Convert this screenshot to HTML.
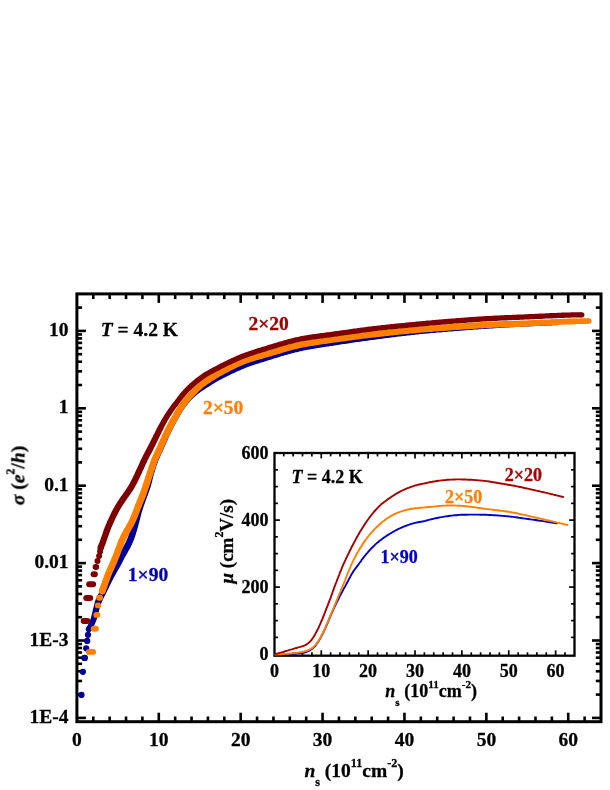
<!DOCTYPE html>
<html><head><meta charset="utf-8"><title>chart</title>
<style>
html,body{margin:0;padding:0;background:#fff;}
svg{display:block;}
text{font-family:"Liberation Serif",serif;font-weight:bold;stroke-width:0.3px;stroke-linejoin:round;}
</style></head><body>
<svg width="610" height="790" viewBox="0 0 610 790">
<rect width="610" height="790" fill="#fff"/>
<g id="mainaxes">
<line x1="93.28" y1="721.70" x2="93.28" y2="716.50" stroke="#000" stroke-width="2.6"/>
<line x1="93.28" y1="293.90" x2="93.28" y2="299.10" stroke="#000" stroke-width="2.6"/>
<line x1="109.66" y1="721.70" x2="109.66" y2="716.50" stroke="#000" stroke-width="2.6"/>
<line x1="109.66" y1="293.90" x2="109.66" y2="299.10" stroke="#000" stroke-width="2.6"/>
<line x1="126.03" y1="721.70" x2="126.03" y2="716.50" stroke="#000" stroke-width="2.6"/>
<line x1="126.03" y1="293.90" x2="126.03" y2="299.10" stroke="#000" stroke-width="2.6"/>
<line x1="142.41" y1="721.70" x2="142.41" y2="716.50" stroke="#000" stroke-width="2.6"/>
<line x1="142.41" y1="293.90" x2="142.41" y2="299.10" stroke="#000" stroke-width="2.6"/>
<line x1="158.79" y1="721.70" x2="158.79" y2="712.70" stroke="#000" stroke-width="2.6"/>
<line x1="158.79" y1="293.90" x2="158.79" y2="302.90" stroke="#000" stroke-width="2.6"/>
<line x1="175.17" y1="721.70" x2="175.17" y2="716.50" stroke="#000" stroke-width="2.6"/>
<line x1="175.17" y1="293.90" x2="175.17" y2="299.10" stroke="#000" stroke-width="2.6"/>
<line x1="191.55" y1="721.70" x2="191.55" y2="716.50" stroke="#000" stroke-width="2.6"/>
<line x1="191.55" y1="293.90" x2="191.55" y2="299.10" stroke="#000" stroke-width="2.6"/>
<line x1="207.93" y1="721.70" x2="207.93" y2="716.50" stroke="#000" stroke-width="2.6"/>
<line x1="207.93" y1="293.90" x2="207.93" y2="299.10" stroke="#000" stroke-width="2.6"/>
<line x1="224.30" y1="721.70" x2="224.30" y2="716.50" stroke="#000" stroke-width="2.6"/>
<line x1="224.30" y1="293.90" x2="224.30" y2="299.10" stroke="#000" stroke-width="2.6"/>
<line x1="240.68" y1="721.70" x2="240.68" y2="712.70" stroke="#000" stroke-width="2.6"/>
<line x1="240.68" y1="293.90" x2="240.68" y2="302.90" stroke="#000" stroke-width="2.6"/>
<line x1="257.06" y1="721.70" x2="257.06" y2="716.50" stroke="#000" stroke-width="2.6"/>
<line x1="257.06" y1="293.90" x2="257.06" y2="299.10" stroke="#000" stroke-width="2.6"/>
<line x1="273.44" y1="721.70" x2="273.44" y2="716.50" stroke="#000" stroke-width="2.6"/>
<line x1="273.44" y1="293.90" x2="273.44" y2="299.10" stroke="#000" stroke-width="2.6"/>
<line x1="289.82" y1="721.70" x2="289.82" y2="716.50" stroke="#000" stroke-width="2.6"/>
<line x1="289.82" y1="293.90" x2="289.82" y2="299.10" stroke="#000" stroke-width="2.6"/>
<line x1="306.19" y1="721.70" x2="306.19" y2="716.50" stroke="#000" stroke-width="2.6"/>
<line x1="306.19" y1="293.90" x2="306.19" y2="299.10" stroke="#000" stroke-width="2.6"/>
<line x1="322.57" y1="721.70" x2="322.57" y2="712.70" stroke="#000" stroke-width="2.6"/>
<line x1="322.57" y1="293.90" x2="322.57" y2="302.90" stroke="#000" stroke-width="2.6"/>
<line x1="338.95" y1="721.70" x2="338.95" y2="716.50" stroke="#000" stroke-width="2.6"/>
<line x1="338.95" y1="293.90" x2="338.95" y2="299.10" stroke="#000" stroke-width="2.6"/>
<line x1="355.33" y1="721.70" x2="355.33" y2="716.50" stroke="#000" stroke-width="2.6"/>
<line x1="355.33" y1="293.90" x2="355.33" y2="299.10" stroke="#000" stroke-width="2.6"/>
<line x1="371.71" y1="721.70" x2="371.71" y2="716.50" stroke="#000" stroke-width="2.6"/>
<line x1="371.71" y1="293.90" x2="371.71" y2="299.10" stroke="#000" stroke-width="2.6"/>
<line x1="388.08" y1="721.70" x2="388.08" y2="716.50" stroke="#000" stroke-width="2.6"/>
<line x1="388.08" y1="293.90" x2="388.08" y2="299.10" stroke="#000" stroke-width="2.6"/>
<line x1="404.46" y1="721.70" x2="404.46" y2="712.70" stroke="#000" stroke-width="2.6"/>
<line x1="404.46" y1="293.90" x2="404.46" y2="302.90" stroke="#000" stroke-width="2.6"/>
<line x1="420.84" y1="721.70" x2="420.84" y2="716.50" stroke="#000" stroke-width="2.6"/>
<line x1="420.84" y1="293.90" x2="420.84" y2="299.10" stroke="#000" stroke-width="2.6"/>
<line x1="437.22" y1="721.70" x2="437.22" y2="716.50" stroke="#000" stroke-width="2.6"/>
<line x1="437.22" y1="293.90" x2="437.22" y2="299.10" stroke="#000" stroke-width="2.6"/>
<line x1="453.60" y1="721.70" x2="453.60" y2="716.50" stroke="#000" stroke-width="2.6"/>
<line x1="453.60" y1="293.90" x2="453.60" y2="299.10" stroke="#000" stroke-width="2.6"/>
<line x1="469.98" y1="721.70" x2="469.98" y2="716.50" stroke="#000" stroke-width="2.6"/>
<line x1="469.98" y1="293.90" x2="469.98" y2="299.10" stroke="#000" stroke-width="2.6"/>
<line x1="486.35" y1="721.70" x2="486.35" y2="712.70" stroke="#000" stroke-width="2.6"/>
<line x1="486.35" y1="293.90" x2="486.35" y2="302.90" stroke="#000" stroke-width="2.6"/>
<line x1="502.73" y1="721.70" x2="502.73" y2="716.50" stroke="#000" stroke-width="2.6"/>
<line x1="502.73" y1="293.90" x2="502.73" y2="299.10" stroke="#000" stroke-width="2.6"/>
<line x1="519.11" y1="721.70" x2="519.11" y2="716.50" stroke="#000" stroke-width="2.6"/>
<line x1="519.11" y1="293.90" x2="519.11" y2="299.10" stroke="#000" stroke-width="2.6"/>
<line x1="535.49" y1="721.70" x2="535.49" y2="716.50" stroke="#000" stroke-width="2.6"/>
<line x1="535.49" y1="293.90" x2="535.49" y2="299.10" stroke="#000" stroke-width="2.6"/>
<line x1="551.87" y1="721.70" x2="551.87" y2="716.50" stroke="#000" stroke-width="2.6"/>
<line x1="551.87" y1="293.90" x2="551.87" y2="299.10" stroke="#000" stroke-width="2.6"/>
<line x1="568.24" y1="721.70" x2="568.24" y2="712.70" stroke="#000" stroke-width="2.6"/>
<line x1="568.24" y1="293.90" x2="568.24" y2="302.90" stroke="#000" stroke-width="2.6"/>
<line x1="584.62" y1="721.70" x2="584.62" y2="716.50" stroke="#000" stroke-width="2.6"/>
<line x1="584.62" y1="293.90" x2="584.62" y2="299.10" stroke="#000" stroke-width="2.6"/>
<line x1="76.90" y1="717.90" x2="85.90" y2="717.90" stroke="#000" stroke-width="2.6"/>
<line x1="601.00" y1="717.90" x2="592.00" y2="717.90" stroke="#000" stroke-width="2.6"/>
<line x1="76.90" y1="694.60" x2="82.10" y2="694.60" stroke="#000" stroke-width="2.6"/>
<line x1="601.00" y1="694.60" x2="595.80" y2="694.60" stroke="#000" stroke-width="2.6"/>
<line x1="76.90" y1="680.97" x2="82.10" y2="680.97" stroke="#000" stroke-width="2.6"/>
<line x1="601.00" y1="680.97" x2="595.80" y2="680.97" stroke="#000" stroke-width="2.6"/>
<line x1="76.90" y1="671.30" x2="82.10" y2="671.30" stroke="#000" stroke-width="2.6"/>
<line x1="601.00" y1="671.30" x2="595.80" y2="671.30" stroke="#000" stroke-width="2.6"/>
<line x1="76.90" y1="663.80" x2="82.10" y2="663.80" stroke="#000" stroke-width="2.6"/>
<line x1="601.00" y1="663.80" x2="595.80" y2="663.80" stroke="#000" stroke-width="2.6"/>
<line x1="76.90" y1="657.67" x2="82.10" y2="657.67" stroke="#000" stroke-width="2.6"/>
<line x1="601.00" y1="657.67" x2="595.80" y2="657.67" stroke="#000" stroke-width="2.6"/>
<line x1="76.90" y1="652.49" x2="82.10" y2="652.49" stroke="#000" stroke-width="2.6"/>
<line x1="601.00" y1="652.49" x2="595.80" y2="652.49" stroke="#000" stroke-width="2.6"/>
<line x1="76.90" y1="648.00" x2="82.10" y2="648.00" stroke="#000" stroke-width="2.6"/>
<line x1="601.00" y1="648.00" x2="595.80" y2="648.00" stroke="#000" stroke-width="2.6"/>
<line x1="76.90" y1="644.04" x2="82.10" y2="644.04" stroke="#000" stroke-width="2.6"/>
<line x1="601.00" y1="644.04" x2="595.80" y2="644.04" stroke="#000" stroke-width="2.6"/>
<line x1="76.90" y1="640.50" x2="85.90" y2="640.50" stroke="#000" stroke-width="2.6"/>
<line x1="601.00" y1="640.50" x2="592.00" y2="640.50" stroke="#000" stroke-width="2.6"/>
<line x1="76.90" y1="617.20" x2="82.10" y2="617.20" stroke="#000" stroke-width="2.6"/>
<line x1="601.00" y1="617.20" x2="595.80" y2="617.20" stroke="#000" stroke-width="2.6"/>
<line x1="76.90" y1="603.57" x2="82.10" y2="603.57" stroke="#000" stroke-width="2.6"/>
<line x1="601.00" y1="603.57" x2="595.80" y2="603.57" stroke="#000" stroke-width="2.6"/>
<line x1="76.90" y1="593.90" x2="82.10" y2="593.90" stroke="#000" stroke-width="2.6"/>
<line x1="601.00" y1="593.90" x2="595.80" y2="593.90" stroke="#000" stroke-width="2.6"/>
<line x1="76.90" y1="586.40" x2="82.10" y2="586.40" stroke="#000" stroke-width="2.6"/>
<line x1="601.00" y1="586.40" x2="595.80" y2="586.40" stroke="#000" stroke-width="2.6"/>
<line x1="76.90" y1="580.27" x2="82.10" y2="580.27" stroke="#000" stroke-width="2.6"/>
<line x1="601.00" y1="580.27" x2="595.80" y2="580.27" stroke="#000" stroke-width="2.6"/>
<line x1="76.90" y1="575.09" x2="82.10" y2="575.09" stroke="#000" stroke-width="2.6"/>
<line x1="601.00" y1="575.09" x2="595.80" y2="575.09" stroke="#000" stroke-width="2.6"/>
<line x1="76.90" y1="570.60" x2="82.10" y2="570.60" stroke="#000" stroke-width="2.6"/>
<line x1="601.00" y1="570.60" x2="595.80" y2="570.60" stroke="#000" stroke-width="2.6"/>
<line x1="76.90" y1="566.64" x2="82.10" y2="566.64" stroke="#000" stroke-width="2.6"/>
<line x1="601.00" y1="566.64" x2="595.80" y2="566.64" stroke="#000" stroke-width="2.6"/>
<line x1="76.90" y1="563.10" x2="85.90" y2="563.10" stroke="#000" stroke-width="2.6"/>
<line x1="601.00" y1="563.10" x2="592.00" y2="563.10" stroke="#000" stroke-width="2.6"/>
<line x1="76.90" y1="539.80" x2="82.10" y2="539.80" stroke="#000" stroke-width="2.6"/>
<line x1="601.00" y1="539.80" x2="595.80" y2="539.80" stroke="#000" stroke-width="2.6"/>
<line x1="76.90" y1="526.17" x2="82.10" y2="526.17" stroke="#000" stroke-width="2.6"/>
<line x1="601.00" y1="526.17" x2="595.80" y2="526.17" stroke="#000" stroke-width="2.6"/>
<line x1="76.90" y1="516.50" x2="82.10" y2="516.50" stroke="#000" stroke-width="2.6"/>
<line x1="601.00" y1="516.50" x2="595.80" y2="516.50" stroke="#000" stroke-width="2.6"/>
<line x1="76.90" y1="509.00" x2="82.10" y2="509.00" stroke="#000" stroke-width="2.6"/>
<line x1="601.00" y1="509.00" x2="595.80" y2="509.00" stroke="#000" stroke-width="2.6"/>
<line x1="76.90" y1="502.87" x2="82.10" y2="502.87" stroke="#000" stroke-width="2.6"/>
<line x1="601.00" y1="502.87" x2="595.80" y2="502.87" stroke="#000" stroke-width="2.6"/>
<line x1="76.90" y1="497.69" x2="82.10" y2="497.69" stroke="#000" stroke-width="2.6"/>
<line x1="601.00" y1="497.69" x2="595.80" y2="497.69" stroke="#000" stroke-width="2.6"/>
<line x1="76.90" y1="493.20" x2="82.10" y2="493.20" stroke="#000" stroke-width="2.6"/>
<line x1="601.00" y1="493.20" x2="595.80" y2="493.20" stroke="#000" stroke-width="2.6"/>
<line x1="76.90" y1="489.24" x2="82.10" y2="489.24" stroke="#000" stroke-width="2.6"/>
<line x1="601.00" y1="489.24" x2="595.80" y2="489.24" stroke="#000" stroke-width="2.6"/>
<line x1="76.90" y1="485.70" x2="85.90" y2="485.70" stroke="#000" stroke-width="2.6"/>
<line x1="601.00" y1="485.70" x2="592.00" y2="485.70" stroke="#000" stroke-width="2.6"/>
<line x1="76.90" y1="462.40" x2="82.10" y2="462.40" stroke="#000" stroke-width="2.6"/>
<line x1="601.00" y1="462.40" x2="595.80" y2="462.40" stroke="#000" stroke-width="2.6"/>
<line x1="76.90" y1="448.77" x2="82.10" y2="448.77" stroke="#000" stroke-width="2.6"/>
<line x1="601.00" y1="448.77" x2="595.80" y2="448.77" stroke="#000" stroke-width="2.6"/>
<line x1="76.90" y1="439.10" x2="82.10" y2="439.10" stroke="#000" stroke-width="2.6"/>
<line x1="601.00" y1="439.10" x2="595.80" y2="439.10" stroke="#000" stroke-width="2.6"/>
<line x1="76.90" y1="431.60" x2="82.10" y2="431.60" stroke="#000" stroke-width="2.6"/>
<line x1="601.00" y1="431.60" x2="595.80" y2="431.60" stroke="#000" stroke-width="2.6"/>
<line x1="76.90" y1="425.47" x2="82.10" y2="425.47" stroke="#000" stroke-width="2.6"/>
<line x1="601.00" y1="425.47" x2="595.80" y2="425.47" stroke="#000" stroke-width="2.6"/>
<line x1="76.90" y1="420.29" x2="82.10" y2="420.29" stroke="#000" stroke-width="2.6"/>
<line x1="601.00" y1="420.29" x2="595.80" y2="420.29" stroke="#000" stroke-width="2.6"/>
<line x1="76.90" y1="415.80" x2="82.10" y2="415.80" stroke="#000" stroke-width="2.6"/>
<line x1="601.00" y1="415.80" x2="595.80" y2="415.80" stroke="#000" stroke-width="2.6"/>
<line x1="76.90" y1="411.84" x2="82.10" y2="411.84" stroke="#000" stroke-width="2.6"/>
<line x1="601.00" y1="411.84" x2="595.80" y2="411.84" stroke="#000" stroke-width="2.6"/>
<line x1="76.90" y1="408.30" x2="85.90" y2="408.30" stroke="#000" stroke-width="2.6"/>
<line x1="601.00" y1="408.30" x2="592.00" y2="408.30" stroke="#000" stroke-width="2.6"/>
<line x1="76.90" y1="385.00" x2="82.10" y2="385.00" stroke="#000" stroke-width="2.6"/>
<line x1="601.00" y1="385.00" x2="595.80" y2="385.00" stroke="#000" stroke-width="2.6"/>
<line x1="76.90" y1="371.37" x2="82.10" y2="371.37" stroke="#000" stroke-width="2.6"/>
<line x1="601.00" y1="371.37" x2="595.80" y2="371.37" stroke="#000" stroke-width="2.6"/>
<line x1="76.90" y1="361.70" x2="82.10" y2="361.70" stroke="#000" stroke-width="2.6"/>
<line x1="601.00" y1="361.70" x2="595.80" y2="361.70" stroke="#000" stroke-width="2.6"/>
<line x1="76.90" y1="354.20" x2="82.10" y2="354.20" stroke="#000" stroke-width="2.6"/>
<line x1="601.00" y1="354.20" x2="595.80" y2="354.20" stroke="#000" stroke-width="2.6"/>
<line x1="76.90" y1="348.07" x2="82.10" y2="348.07" stroke="#000" stroke-width="2.6"/>
<line x1="601.00" y1="348.07" x2="595.80" y2="348.07" stroke="#000" stroke-width="2.6"/>
<line x1="76.90" y1="342.89" x2="82.10" y2="342.89" stroke="#000" stroke-width="2.6"/>
<line x1="601.00" y1="342.89" x2="595.80" y2="342.89" stroke="#000" stroke-width="2.6"/>
<line x1="76.90" y1="338.40" x2="82.10" y2="338.40" stroke="#000" stroke-width="2.6"/>
<line x1="601.00" y1="338.40" x2="595.80" y2="338.40" stroke="#000" stroke-width="2.6"/>
<line x1="76.90" y1="334.44" x2="82.10" y2="334.44" stroke="#000" stroke-width="2.6"/>
<line x1="601.00" y1="334.44" x2="595.80" y2="334.44" stroke="#000" stroke-width="2.6"/>
<line x1="76.90" y1="330.90" x2="85.90" y2="330.90" stroke="#000" stroke-width="2.6"/>
<line x1="601.00" y1="330.90" x2="592.00" y2="330.90" stroke="#000" stroke-width="2.6"/>
<line x1="76.90" y1="307.60" x2="82.10" y2="307.60" stroke="#000" stroke-width="2.6"/>
<line x1="601.00" y1="307.60" x2="595.80" y2="307.60" stroke="#000" stroke-width="2.6"/>
<rect x="76.90" y="293.90" width="524.10" height="427.80" fill="none" stroke="#000" stroke-width="3.0"/>
</g>
<g id="maincurves">
<polygon points="91.2,630.8 92.0,629.5 92.7,628.1 93.5,626.8 94.2,625.4 94.9,623.9 95.5,622.5 96.1,621.0 96.7,619.5 97.1,618.0 97.6,616.5 98.0,615.0 98.3,613.5 98.7,612.1 99.1,610.6 99.4,609.2 99.8,607.8 100.2,606.4 100.6,605.0 101.1,603.7 101.6,602.4 102.1,601.2 102.7,599.9 103.3,598.6 104.0,597.4 104.6,596.0 105.3,594.7 106.0,593.4 106.7,592.0 107.4,590.6 108.1,589.3 108.7,587.9 109.4,586.5 110.0,585.2 110.6,583.9 111.3,582.5 112.0,581.2 112.6,579.9 113.3,578.6 114.0,577.3 114.7,576.0 115.4,574.7 116.2,573.4 116.9,572.1 117.7,570.8 118.4,569.5 119.2,568.2 119.9,566.9 120.7,565.5 121.4,564.2 122.1,562.8 122.8,561.5 123.5,560.1 124.1,558.8 124.8,557.5 125.5,556.2 126.2,555.0 126.9,553.7 127.7,552.4 128.4,551.1 129.2,549.8 129.9,548.4 130.7,547.1 131.4,545.6 132.0,544.2 132.7,542.8 133.3,541.3 133.8,539.9 134.4,538.4 134.9,537.0 135.4,535.5 135.9,534.0 136.3,532.6 136.8,531.1 137.2,529.6 137.6,528.2 138.0,526.7 138.4,525.2 138.8,523.8 139.2,522.3 139.6,520.8 139.9,519.4 140.3,517.9 140.7,516.5 141.1,515.1 141.4,513.6 141.8,512.2 142.3,510.8 142.7,509.4 143.1,508.0 143.6,506.6 144.1,505.2 144.6,503.8 145.1,502.4 145.6,501.0 146.1,499.6 146.6,498.2 147.1,496.8 147.7,495.4 148.2,494.0 148.7,492.6 149.2,491.2 149.7,489.7 150.2,488.2 150.7,486.7 151.1,485.2 151.5,483.7 151.9,482.2 152.3,480.8 152.6,479.3 153.0,477.9 153.3,476.4 153.7,475.0 154.1,473.6 154.5,472.3 154.9,470.9 155.3,469.4 155.8,468.0 156.2,466.6 156.7,465.2 157.2,463.9 157.7,462.5 158.2,461.1 158.7,459.8 159.3,458.5 159.9,457.2 160.5,455.8 161.1,454.5 161.7,453.1 162.4,451.7 163.0,450.3 163.6,448.9 164.2,447.6 164.8,446.2 165.4,444.8 166.0,443.4 166.6,442.1 167.2,440.7 167.8,439.4 168.4,438.0 169.0,436.6 169.7,435.3 170.3,433.9 170.9,432.6 171.6,431.3 172.2,429.9 172.9,428.6 173.6,427.3 174.2,426.0 174.9,424.7 175.6,423.4 176.3,422.1 177.1,420.8 177.8,419.5 178.5,418.2 179.3,416.9 180.0,415.6 180.8,414.3 181.6,413.1 182.3,411.8 183.1,410.6 183.9,409.3 184.7,408.1 185.6,406.9 186.4,405.8 187.3,404.6 188.2,403.5 189.1,402.4 190.0,401.3 191.0,400.3 192.0,399.2 193.0,398.2 194.1,397.3 195.1,396.3 196.2,395.4 197.3,394.4 198.5,393.5 199.6,392.7 200.8,391.8 202.0,391.0 203.2,390.2 204.4,389.4 205.7,388.6 206.9,387.8 208.2,387.0 209.5,386.2 210.7,385.4 212.0,384.6 213.3,383.8 214.5,383.0 215.8,382.3 217.0,381.5 218.3,380.8 219.6,380.1 220.9,379.4 222.2,378.7 223.5,378.0 224.8,377.4 226.2,376.7 227.5,376.1 228.8,375.4 230.2,374.8 231.5,374.1 232.9,373.5 234.2,372.9 235.6,372.2 236.9,371.6 238.3,371.0 239.7,370.4 241.0,369.8 242.4,369.3 243.7,368.7 245.1,368.1 246.5,367.6 247.9,367.1 249.3,366.6 250.7,366.1 252.1,365.6 253.5,365.1 254.9,364.6 256.3,364.1 257.7,363.7 259.1,363.2 260.5,362.8 262.0,362.3 263.4,361.9 264.8,361.4 266.3,361.0 267.7,360.5 269.1,360.1 270.6,359.7 272.0,359.2 273.4,358.8 274.9,358.3 276.3,357.9 277.7,357.4 279.2,357.0 280.6,356.6 282.0,356.1 283.5,355.7 284.9,355.3 286.3,354.9 287.8,354.5 289.2,354.1 290.6,353.7 292.0,353.3 293.5,352.9 294.9,352.6 296.4,352.2 297.8,351.9 299.3,351.5 300.7,351.2 302.2,350.9 303.6,350.6 305.1,350.3 306.5,350.0 308.0,349.8 309.5,349.5 310.9,349.2 312.4,349.0 313.9,348.7 315.3,348.5 316.8,348.2 318.3,348.0 319.8,347.8 321.2,347.5 322.7,347.3 324.2,347.1 325.7,346.8 327.2,346.6 328.7,346.4 330.1,346.1 331.6,345.9 333.1,345.7 334.6,345.5 336.1,345.2 337.6,345.0 339.1,344.8 340.5,344.6 342.0,344.3 343.5,344.1 345.0,343.9 346.5,343.7 348.0,343.4 349.4,343.2 350.9,343.0 352.4,342.8 353.9,342.6 355.4,342.3 356.9,342.1 358.3,341.9 359.8,341.7 361.3,341.5 362.8,341.3 364.3,341.1 365.8,340.9 367.3,340.7 368.8,340.5 370.2,340.3 371.7,340.1 373.2,339.9 374.7,339.7 376.2,339.5 377.7,339.3 379.2,339.1 380.7,338.9 382.1,338.7 383.6,338.5 385.1,338.3 386.6,338.1 388.1,337.9 389.6,337.7 391.1,337.5 392.6,337.3 394.1,337.2 395.5,337.0 397.0,336.8 398.5,336.6 400.0,336.4 401.5,336.2 403.0,336.1 404.5,335.9 406.0,335.7 407.4,335.5 408.9,335.4 410.4,335.2 411.9,335.0 413.4,334.9 414.9,334.7 416.4,334.5 417.9,334.4 419.4,334.2 420.8,334.1 422.3,333.9 423.8,333.8 425.3,333.7 426.8,333.5 428.3,333.4 429.8,333.3 431.3,333.1 432.8,333.0 434.3,332.9 435.8,332.7 437.3,332.6 438.8,332.5 440.3,332.4 441.8,332.2 443.3,332.1 444.7,332.0 446.2,331.9 447.7,331.7 449.2,331.6 450.7,331.5 452.2,331.4 453.7,331.3 455.2,331.1 456.7,331.0 458.2,330.9 459.7,330.8 461.2,330.7 462.7,330.5 464.2,330.4 465.7,330.3 467.2,330.2 468.7,330.1 470.2,330.0 471.7,329.9 473.2,329.8 474.7,329.6 476.2,329.5 477.7,329.4 479.2,329.3 480.7,329.2 482.2,329.1 483.7,329.0 485.2,328.9 486.7,328.8 488.2,328.7 489.7,328.6 491.2,328.5 492.6,328.4 494.1,328.3 495.6,328.2 497.1,328.1 498.6,328.0 500.1,327.9 501.6,327.8 503.1,327.8 504.6,327.7 506.1,327.6 507.6,327.5 509.1,327.4 510.6,327.3 512.1,327.3 513.6,327.2 515.1,327.1 516.6,327.0 518.1,326.9 519.6,326.8 521.1,326.8 522.6,326.7 524.1,326.6 525.6,326.5 527.1,326.5 528.6,326.4 530.1,326.3 531.6,326.3 533.1,326.2 534.6,326.1 536.1,326.0 537.6,326.0 539.1,325.9 540.6,325.9 542.1,325.8 543.6,325.7 545.1,325.7 546.6,325.6 548.1,325.5 549.6,325.5 551.1,325.4 552.6,325.3 554.1,325.3 555.6,325.2 557.1,325.1 556.9,319.7 555.4,319.7 553.9,319.8 552.4,319.8 550.9,319.9 549.4,320.0 547.9,320.0 546.4,320.1 544.9,320.2 543.4,320.2 541.9,320.3 540.4,320.4 538.9,320.4 537.4,320.5 535.9,320.6 534.4,320.6 532.9,320.7 531.4,320.8 529.8,320.8 528.3,320.9 526.8,321.0 525.3,321.1 523.8,321.1 522.3,321.2 520.8,321.3 519.3,321.4 517.8,321.4 516.3,321.5 514.8,321.6 513.3,321.7 511.8,321.8 510.3,321.8 508.8,321.9 507.3,322.0 505.8,322.1 504.3,322.2 502.8,322.3 501.3,322.4 499.8,322.4 498.3,322.5 496.8,322.6 495.3,322.7 493.8,322.8 492.3,322.9 490.8,323.0 489.3,323.1 487.8,323.2 486.3,323.3 484.8,323.4 483.3,323.5 481.8,323.6 480.3,323.7 478.8,323.8 477.3,323.9 475.8,324.0 474.3,324.2 472.8,324.3 471.3,324.4 469.8,324.5 468.3,324.6 466.8,324.7 465.3,324.8 463.8,324.9 462.3,325.1 460.8,325.2 459.3,325.3 457.8,325.4 456.3,325.5 454.8,325.7 453.3,325.8 451.8,325.9 450.3,326.0 448.8,326.1 447.3,326.3 445.8,326.4 444.3,326.5 442.8,326.6 441.3,326.7 439.8,326.9 438.3,327.0 436.8,327.1 435.3,327.2 433.8,327.4 432.3,327.5 430.8,327.6 429.3,327.8 427.8,327.9 426.3,328.0 424.8,328.2 423.3,328.3 421.8,328.5 420.3,328.6 418.8,328.8 417.3,328.9 415.8,329.1 414.3,329.2 412.8,329.4 411.3,329.6 409.8,329.7 408.3,329.9 406.8,330.1 405.3,330.2 403.8,330.4 402.3,330.6 400.8,330.8 399.3,331.0 397.8,331.1 396.3,331.3 394.9,331.5 393.4,331.7 391.9,331.9 390.4,332.1 388.9,332.3 387.4,332.5 385.9,332.7 384.4,332.8 382.9,333.0 381.4,333.2 379.9,333.4 378.4,333.6 377.0,333.8 375.5,334.0 374.0,334.2 372.5,334.4 371.0,334.6 369.5,334.8 368.0,335.0 366.5,335.2 365.0,335.4 363.5,335.6 362.0,335.8 360.6,336.1 359.1,336.3 357.6,336.5 356.1,336.7 354.6,336.9 353.1,337.1 351.6,337.3 350.1,337.5 348.6,337.8 347.1,338.0 345.7,338.2 344.2,338.4 342.7,338.7 341.2,338.9 339.7,339.1 338.2,339.3 336.7,339.6 335.3,339.8 333.8,340.0 332.3,340.3 330.8,340.5 329.3,340.7 327.8,340.9 326.3,341.2 324.9,341.4 323.4,341.6 321.9,341.9 320.4,342.1 318.9,342.3 317.4,342.6 315.9,342.8 314.4,343.1 312.9,343.3 311.5,343.6 310.0,343.8 308.5,344.1 307.0,344.4 305.5,344.6 304.0,344.9 302.5,345.2 301.0,345.5 299.5,345.9 298.1,346.2 296.6,346.5 295.1,346.9 293.6,347.2 292.1,347.6 290.7,348.0 289.2,348.4 287.7,348.8 286.3,349.2 284.8,349.6 283.3,350.0 281.9,350.4 280.4,350.9 279.0,351.3 277.6,351.7 276.1,352.2 274.7,352.6 273.2,353.1 271.8,353.5 270.4,354.0 268.9,354.4 267.5,354.8 266.1,355.3 264.6,355.7 263.2,356.2 261.8,356.6 260.3,357.1 258.9,357.5 257.4,358.0 256.0,358.4 254.6,358.9 253.1,359.4 251.7,359.9 250.2,360.4 248.8,360.9 247.4,361.4 245.9,361.9 244.5,362.5 243.1,363.0 241.7,363.6 240.3,364.2 238.9,364.8 237.5,365.4 236.1,366.0 234.7,366.6 233.3,367.2 231.9,367.9 230.6,368.5 229.2,369.2 227.8,369.8 226.5,370.5 225.1,371.1 223.7,371.8 222.4,372.5 221.0,373.1 219.7,373.8 218.3,374.5 217.0,375.2 215.6,376.0 214.3,376.8 212.9,377.5 211.6,378.3 210.3,379.1 209.1,379.9 207.8,380.7 206.5,381.6 205.3,382.3 204.0,383.1 202.7,383.9 201.4,384.8 200.1,385.6 198.9,386.5 197.6,387.3 196.3,388.3 195.1,389.2 193.9,390.2 192.7,391.2 191.5,392.2 190.3,393.2 189.2,394.3 188.1,395.4 187.0,396.5 185.9,397.6 184.9,398.8 183.9,400.0 182.9,401.2 182.0,402.5 181.1,403.7 180.2,405.0 179.3,406.3 178.5,407.6 177.7,408.9 176.9,410.2 176.0,411.5 175.3,412.7 174.5,414.0 173.7,415.3 172.9,416.6 172.1,417.9 171.4,419.3 170.6,420.6 169.9,421.9 169.1,423.2 168.4,424.6 167.7,425.9 167.0,427.3 166.3,428.6 165.6,430.0 164.9,431.4 164.3,432.7 163.6,434.1 163.0,435.4 162.3,436.8 161.7,438.2 161.0,439.6 160.4,440.9 159.8,442.3 159.2,443.7 158.5,445.1 157.9,446.4 157.3,447.8 156.7,449.1 156.1,450.4 155.4,451.8 154.8,453.1 154.1,454.5 153.5,455.9 152.8,457.3 152.3,458.8 151.7,460.2 151.1,461.7 150.6,463.1 150.1,464.5 149.6,466.0 149.1,467.4 148.7,468.9 148.2,470.4 147.7,471.8 147.3,473.3 146.9,474.8 146.6,476.3 146.2,477.8 145.9,479.2 145.5,480.7 145.2,482.1 144.8,483.4 144.4,484.8 144.0,486.2 143.5,487.6 143.0,488.9 142.5,490.3 142.0,491.7 141.5,493.1 140.9,494.5 140.4,495.9 139.9,497.4 139.4,498.8 138.8,500.2 138.3,501.6 137.8,503.1 137.3,504.5 136.9,506.0 136.4,507.4 135.9,508.9 135.5,510.4 135.1,511.9 134.7,513.3 134.3,514.8 133.9,516.3 133.5,517.7 133.2,519.2 132.8,520.6 132.4,522.1 132.0,523.5 131.6,524.9 131.2,526.4 130.8,527.8 130.4,529.2 130.0,530.6 129.6,532.0 129.1,533.4 128.6,534.8 128.2,536.2 127.7,537.5 127.1,538.9 126.6,540.2 126.0,541.5 125.4,542.8 124.8,544.0 124.1,545.3 123.4,546.5 122.7,547.8 122.0,549.1 121.2,550.4 120.5,551.7 119.7,553.1 119.0,554.4 118.3,555.8 117.6,557.1 116.9,558.5 116.2,559.8 115.5,561.1 114.8,562.4 114.1,563.7 113.4,565.0 112.7,566.3 111.9,567.6 111.2,568.9 110.4,570.2 109.7,571.5 108.9,572.8 108.2,574.2 107.5,575.5 106.8,576.9 106.1,578.2 105.4,579.6 104.7,581.0 104.0,582.3 103.4,583.7 102.8,585.1 102.1,586.4 101.5,587.7 100.8,589.1 100.2,590.4 99.5,591.7 98.8,593.0 98.1,594.4 97.4,595.7 96.7,597.2 96.1,598.6 95.5,600.1 95.0,601.6 94.6,603.1 94.1,604.7 93.8,606.2 93.4,607.7 93.0,609.1 92.7,610.6 92.4,612.1 92.0,613.5 91.7,614.9 91.3,616.3 91.0,617.7 90.5,619.0 90.1,620.3 89.6,621.6 89.0,622.8 88.4,624.0 87.7,625.3 87.0,626.6 86.2,627.8" fill="#000099"/><ellipse cx="88.7" cy="629.3" rx="2.90" ry="2.90" fill="#000099"/><ellipse cx="557.0" cy="322.4" rx="2.75" ry="2.75" fill="#000099"/>
<circle cx="81.5" cy="694.9" r="3.1" fill="#000099"/><circle cx="82.9" cy="671.8" r="3.1" fill="#000099"/><line x1="84.3" y1="657.9" x2="84.9" y2="657.9" stroke="#000099" stroke-width="6.2" stroke-linecap="round"/><circle cx="86.2" cy="648.3" r="3.1" fill="#000099"/><circle cx="87.2" cy="640.9" r="3.1" fill="#000099"/><circle cx="88.0" cy="634.8" r="3.1" fill="#000099"/>
<polygon points="105.4,592.1 105.9,590.7 106.5,589.3 107.0,587.9 107.5,586.4 108.0,585.0 108.5,583.5 109.0,582.1 109.5,580.7 110.0,579.3 110.5,578.0 111.0,576.6 111.5,575.3 112.1,573.9 112.6,572.6 113.2,571.2 113.9,569.9 114.5,568.5 115.1,567.1 115.7,565.8 116.3,564.4 116.9,562.9 117.5,561.5 118.1,560.1 118.7,558.7 119.2,557.3 119.8,555.9 120.3,554.5 120.9,553.0 121.4,551.6 121.9,550.2 122.4,548.8 123.0,547.4 123.5,546.0 124.0,544.6 124.5,543.3 125.1,542.0 125.7,540.7 126.3,539.4 126.9,538.1 127.6,536.8 128.3,535.6 129.0,534.3 129.7,533.0 130.4,531.7 131.2,530.4 131.9,529.1 132.7,527.7 133.4,526.4 134.2,525.0 134.9,523.6 135.5,522.2 136.2,520.8 136.8,519.3 137.4,517.9 138.0,516.5 138.5,515.0 139.0,513.6 139.6,512.2 140.1,510.8 140.6,509.4 141.2,508.0 141.7,506.7 142.3,505.3 142.8,503.9 143.4,502.5 144.0,501.1 144.6,499.7 145.1,498.3 145.7,496.9 146.2,495.4 146.7,494.0 147.2,492.5 147.7,491.1 148.2,489.7 148.7,488.2 149.2,486.8 149.7,485.4 150.1,483.9 150.6,482.5 151.1,481.1 151.5,479.6 152.0,478.2 152.5,476.8 152.9,475.4 153.4,473.9 153.9,472.5 154.3,471.1 154.8,469.7 155.3,468.2 155.8,466.8 156.2,465.4 156.7,464.1 157.2,462.7 157.7,461.3 158.3,460.0 158.8,458.7 159.4,457.4 160.0,456.1 160.7,454.7 161.3,453.4 162.0,452.0 162.6,450.6 163.2,449.2 163.8,447.8 164.4,446.4 165.0,445.1 165.6,443.7 166.2,442.3 166.9,441.0 167.5,439.6 168.1,438.3 168.7,436.9 169.4,435.6 170.0,434.3 170.7,432.9 171.3,431.6 172.0,430.3 172.6,428.9 173.3,427.6 174.0,426.3 174.7,425.0 175.4,423.8 176.2,422.5 176.9,421.2 177.6,419.9 178.4,418.6 179.1,417.3 179.9,416.0 180.6,414.7 181.4,413.4 182.1,412.1 182.9,410.8 183.6,409.6 184.4,408.4 185.2,407.2 186.0,406.0 186.8,404.8 187.7,403.7 188.6,402.6 189.5,401.5 190.4,400.4 191.4,399.3 192.3,398.2 193.3,397.1 194.3,396.0 195.3,395.0 196.4,393.9 197.4,392.9 198.4,391.8 199.5,390.8 200.5,389.9 201.6,388.9 202.7,388.0 203.8,387.1 204.9,386.3 206.1,385.4 207.2,384.6 208.4,383.7 209.7,382.9 210.9,382.1 212.1,381.3 213.4,380.5 214.6,379.7 215.9,378.9 217.1,378.1 218.4,377.4 219.6,376.6 220.9,375.9 222.2,375.2 223.5,374.5 224.8,373.8 226.1,373.1 227.4,372.4 228.8,371.7 230.1,371.0 231.4,370.3 232.7,369.7 234.1,369.0 235.4,368.4 236.7,367.7 238.1,367.1 239.4,366.5 240.8,365.9 242.1,365.3 243.5,364.8 244.8,364.2 246.2,363.7 247.5,363.2 248.9,362.7 250.3,362.3 251.7,361.8 253.1,361.4 254.5,360.9 255.9,360.5 257.4,360.1 258.8,359.7 260.2,359.3 261.7,358.9 263.1,358.5 264.6,358.1 266.0,357.6 267.5,357.2 268.9,356.8 270.4,356.4 271.8,356.0 273.3,355.5 274.7,355.1 276.2,354.7 277.6,354.2 279.1,353.8 280.5,353.4 281.9,352.9 283.4,352.5 284.8,352.1 286.2,351.7 287.6,351.2 289.1,350.8 290.5,350.5 291.9,350.1 293.4,349.7 294.8,349.3 296.2,349.0 297.7,348.7 299.1,348.3 300.5,348.0 302.0,347.7 303.4,347.4 304.9,347.2 306.4,346.9 307.8,346.6 309.3,346.4 310.8,346.1 312.2,345.9 313.7,345.7 315.2,345.4 316.6,345.2 318.1,345.0 319.6,344.7 321.1,344.5 322.6,344.3 324.1,344.1 325.5,343.9 327.0,343.7 328.5,343.5 330.0,343.3 331.5,343.0 333.0,342.8 334.5,342.6 335.9,342.4 337.4,342.2 338.9,342.0 340.4,341.8 341.9,341.6 343.4,341.4 344.9,341.2 346.4,341.0 347.8,340.8 349.3,340.6 350.8,340.4 352.3,340.2 353.8,340.0 355.3,339.8 356.8,339.6 358.2,339.4 359.7,339.2 361.2,339.0 362.7,338.8 364.2,338.6 365.7,338.5 367.2,338.3 368.7,338.1 370.2,337.9 371.6,337.7 373.1,337.6 374.6,337.4 376.1,337.2 377.6,337.0 379.1,336.9 380.6,336.7 382.1,336.5 383.6,336.4 385.1,336.2 386.5,336.1 388.0,335.9 389.5,335.7 391.0,335.6 392.5,335.4 394.0,335.3 395.5,335.1 397.0,334.9 398.5,334.8 400.0,334.6 401.5,334.5 403.0,334.3 404.5,334.2 405.9,334.1 407.4,333.9 408.9,333.8 410.4,333.6 411.9,333.5 413.4,333.4 414.9,333.2 416.4,333.1 417.9,333.0 419.4,332.8 420.9,332.7 422.4,332.6 423.9,332.4 425.4,332.3 426.9,332.2 428.3,332.1 429.8,332.0 431.3,331.9 432.8,331.7 434.3,331.6 435.8,331.5 437.3,331.4 438.8,331.3 440.3,331.2 441.8,331.1 443.3,331.0 444.8,330.9 446.3,330.8 447.8,330.7 449.3,330.6 450.8,330.5 452.3,330.3 453.8,330.2 455.3,330.1 456.8,330.0 458.3,329.9 459.8,329.8 461.3,329.7 462.8,329.6 464.3,329.5 465.8,329.4 467.3,329.3 468.8,329.2 470.3,329.1 471.8,329.0 473.3,328.9 474.8,328.8 476.3,328.7 477.8,328.6 479.3,328.5 480.8,328.5 482.3,328.4 483.8,328.3 485.2,328.2 486.7,328.1 488.2,328.0 489.7,328.0 491.2,327.9 492.7,327.8 494.2,327.8 495.7,327.7 497.2,327.7 498.7,327.6 500.2,327.6 501.7,327.5 503.2,327.4 504.7,327.4 506.2,327.3 507.7,327.3 509.2,327.2 510.7,327.2 512.2,327.1 513.7,327.1 515.2,327.0 516.7,327.0 518.2,326.9 519.7,326.9 521.2,326.8 522.7,326.7 524.3,326.7 525.8,326.6 527.3,326.5 528.8,326.5 530.3,326.4 531.8,326.3 533.3,326.2 534.8,326.2 536.3,326.1 537.8,326.0 539.3,325.9 540.8,325.8 542.3,325.8 543.8,325.7 545.3,325.6 546.8,325.5 548.3,325.4 549.8,325.3 551.3,325.3 552.8,325.2 554.3,325.1 555.8,325.0 557.3,324.9 558.8,324.9 560.3,324.8 561.8,324.7 563.3,324.7 564.8,324.6 566.3,324.5 567.8,324.5 569.3,324.4 570.8,324.4 572.3,324.3 573.8,324.2 575.3,324.2 576.8,324.1 578.3,324.1 579.8,324.1 581.3,324.0 582.8,324.0 584.3,323.9 585.8,323.9 587.3,323.8 588.8,323.8 588.6,318.2 587.1,318.2 585.6,318.3 584.1,318.3 582.6,318.3 581.1,318.3 579.6,318.4 578.1,318.4 576.6,318.4 575.1,318.5 573.6,318.5 572.1,318.5 570.6,318.6 569.1,318.6 567.6,318.7 566.1,318.7 564.5,318.8 563.0,318.8 561.5,318.9 560.0,318.9 558.5,319.0 557.0,319.1 555.5,319.1 554.0,319.2 552.5,319.3 551.0,319.3 549.5,319.4 548.0,319.5 546.5,319.5 545.0,319.6 543.5,319.7 542.0,319.7 540.5,319.8 539.0,319.9 537.5,319.9 536.0,320.0 534.5,320.1 533.0,320.1 531.5,320.2 530.0,320.3 528.5,320.3 527.0,320.4 525.5,320.4 524.0,320.5 522.5,320.6 521.0,320.6 519.5,320.7 518.0,320.7 516.5,320.7 515.0,320.8 513.5,320.8 512.0,320.9 510.5,320.9 509.0,320.9 507.5,321.0 506.0,321.0 504.5,321.0 503.0,321.1 501.5,321.1 500.0,321.2 498.5,321.2 497.0,321.3 495.5,321.3 494.0,321.4 492.4,321.4 490.9,321.5 489.4,321.6 487.9,321.7 486.4,321.7 484.9,321.8 483.4,321.9 481.9,322.0 480.4,322.1 478.9,322.2 477.4,322.2 475.9,322.3 474.4,322.4 472.9,322.5 471.4,322.6 469.9,322.7 468.4,322.8 466.9,322.9 465.4,323.0 463.9,323.1 462.4,323.2 460.9,323.3 459.4,323.4 457.9,323.5 456.4,323.6 454.9,323.8 453.4,323.9 451.9,324.0 450.4,324.1 448.9,324.2 447.4,324.3 445.9,324.4 444.4,324.5 442.9,324.6 441.4,324.7 439.9,324.8 438.4,324.9 436.9,325.0 435.4,325.1 433.9,325.3 432.4,325.4 430.9,325.5 429.3,325.6 427.8,325.7 426.3,325.8 424.8,325.9 423.3,326.1 421.8,326.2 420.3,326.3 418.8,326.4 417.3,326.6 415.8,326.7 414.3,326.8 412.8,327.0 411.3,327.1 409.8,327.3 408.3,327.4 406.8,327.5 405.3,327.7 403.8,327.8 402.3,328.0 400.8,328.1 399.3,328.3 397.8,328.4 396.3,328.6 394.8,328.7 393.3,328.9 391.8,329.1 390.3,329.2 388.9,329.4 387.4,329.5 385.9,329.7 384.4,329.9 382.9,330.0 381.4,330.2 379.9,330.4 378.4,330.5 376.9,330.7 375.4,330.9 373.9,331.0 372.4,331.2 370.9,331.4 369.4,331.6 367.9,331.7 366.4,331.9 364.9,332.1 363.4,332.3 361.9,332.5 360.4,332.7 358.9,332.8 357.4,333.0 355.9,333.2 354.4,333.4 353.0,333.6 351.5,333.8 350.0,334.0 348.5,334.2 347.0,334.4 345.5,334.6 344.0,334.8 342.5,335.0 341.0,335.2 339.5,335.5 338.0,335.7 336.5,335.9 335.1,336.1 333.6,336.3 332.1,336.5 330.6,336.7 329.1,336.9 327.6,337.1 326.1,337.3 324.6,337.5 323.1,337.8 321.7,338.0 320.2,338.2 318.7,338.4 317.2,338.6 315.7,338.9 314.2,339.1 312.7,339.3 311.2,339.6 309.7,339.8 308.2,340.1 306.7,340.3 305.2,340.6 303.7,340.9 302.2,341.2 300.7,341.5 299.2,341.8 297.7,342.1 296.2,342.4 294.8,342.8 293.3,343.1 291.8,343.5 290.3,343.9 288.8,344.3 287.4,344.7 285.9,345.1 284.4,345.5 283.0,345.9 281.5,346.4 280.1,346.8 278.6,347.2 277.2,347.7 275.8,348.1 274.3,348.5 272.9,349.0 271.5,349.4 270.0,349.8 268.6,350.3 267.2,350.7 265.7,351.1 264.3,351.5 262.8,351.9 261.4,352.3 259.9,352.7 258.5,353.1 257.0,353.5 255.6,353.9 254.1,354.4 252.7,354.8 251.2,355.2 249.7,355.7 248.3,356.2 246.8,356.7 245.4,357.2 243.9,357.7 242.5,358.3 241.0,358.8 239.6,359.4 238.2,360.0 236.8,360.7 235.4,361.3 234.0,361.9 232.6,362.6 231.3,363.3 229.9,363.9 228.5,364.6 227.2,365.3 225.8,366.0 224.5,366.7 223.1,367.4 221.8,368.1 220.4,368.8 219.1,369.5 217.7,370.2 216.4,371.0 215.1,371.7 213.7,372.5 212.4,373.3 211.1,374.0 209.8,374.8 208.5,375.6 207.2,376.5 205.9,377.3 204.7,378.1 203.4,379.0 202.1,379.9 200.8,380.8 199.6,381.8 198.4,382.8 197.2,383.8 196.0,384.8 194.8,385.9 193.7,387.0 192.6,388.0 191.5,389.1 190.5,390.2 189.4,391.4 188.3,392.5 187.3,393.6 186.3,394.8 185.3,395.9 184.2,397.1 183.3,398.3 182.3,399.6 181.3,400.8 180.4,402.1 179.5,403.4 178.7,404.7 177.9,406.0 177.1,407.3 176.3,408.6 175.5,410.0 174.7,411.3 174.0,412.6 173.2,413.9 172.5,415.2 171.7,416.5 171.0,417.8 170.2,419.1 169.5,420.4 168.7,421.8 168.0,423.1 167.3,424.5 166.6,425.8 165.9,427.2 165.2,428.6 164.5,429.9 163.9,431.3 163.2,432.7 162.6,434.0 161.9,435.4 161.3,436.8 160.7,438.2 160.0,439.6 159.4,440.9 158.8,442.3 158.2,443.7 157.6,445.1 157.0,446.4 156.4,447.8 155.8,449.1 155.2,450.5 154.5,451.8 153.9,453.2 153.2,454.6 152.6,456.0 152.0,457.4 151.4,458.8 150.9,460.3 150.3,461.7 149.8,463.2 149.3,464.6 148.8,466.1 148.4,467.5 147.9,468.9 147.4,470.4 146.9,471.8 146.5,473.2 146.0,474.7 145.5,476.1 145.1,477.5 144.6,478.9 144.1,480.4 143.7,481.8 143.2,483.2 142.7,484.7 142.3,486.1 141.8,487.5 141.3,488.9 140.8,490.3 140.3,491.7 139.8,493.1 139.3,494.5 138.8,495.8 138.2,497.2 137.7,498.6 137.1,499.9 136.6,501.3 136.0,502.7 135.4,504.1 134.8,505.5 134.3,507.0 133.7,508.4 133.2,509.8 132.7,511.2 132.2,512.6 131.6,514.0 131.1,515.3 130.5,516.7 130.0,518.0 129.4,519.3 128.8,520.6 128.1,521.9 127.4,523.2 126.7,524.4 126.0,525.7 125.3,527.0 124.5,528.3 123.8,529.6 123.0,530.9 122.3,532.3 121.6,533.7 120.8,535.0 120.1,536.4 119.5,537.9 118.8,539.3 118.2,540.7 117.7,542.2 117.1,543.6 116.6,545.0 116.1,546.4 115.5,547.9 115.0,549.3 114.5,550.6 114.0,552.0 113.4,553.4 112.9,554.8 112.4,556.2 111.8,557.6 111.2,558.9 110.7,560.3 110.1,561.6 109.5,563.0 108.9,564.3 108.3,565.7 107.7,567.1 107.0,568.5 106.4,569.9 105.8,571.3 105.2,572.7 104.6,574.1 104.1,575.6 103.6,577.1 103.1,578.5 102.6,579.9 102.1,581.3 101.6,582.7 101.1,584.1 100.6,585.5 100.1,586.9 99.6,588.3 99.0,589.7" fill="#ff7f00"/><ellipse cx="102.2" cy="590.9" rx="3.40" ry="3.40" fill="#ff7f00"/><ellipse cx="588.7" cy="321.0" rx="2.81" ry="2.81" fill="#ff7f00"/>
<line x1="88.9" y1="651.9" x2="93.1" y2="651.9" stroke="#ff7f00" stroke-width="5.9" stroke-linecap="round"/><line x1="93.7" y1="628.7" x2="95.9" y2="628.7" stroke="#ff7f00" stroke-width="5.9" stroke-linecap="round"/><line x1="96.3" y1="614.9" x2="97.3" y2="614.9" stroke="#ff7f00" stroke-width="5.9" stroke-linecap="round"/><line x1="97.8" y1="605.4" x2="98.2" y2="605.4" stroke="#ff7f00" stroke-width="5.9" stroke-linecap="round"/><line x1="99.1" y1="597.7" x2="100.1" y2="597.7" stroke="#ff7f00" stroke-width="5.9" stroke-linecap="round"/><circle cx="102.1" cy="591.6" r="2.95" fill="#ff7f00"/>
<polygon points="103.5,549.1 104.1,547.7 104.6,546.3 105.2,544.9 105.7,543.5 106.2,542.1 106.7,540.6 107.2,539.2 107.7,537.8 108.2,536.3 108.7,534.9 109.2,533.5 109.7,532.2 110.2,530.8 110.7,529.4 111.2,528.1 111.8,526.7 112.4,525.4 113.0,524.0 113.6,522.7 114.2,521.3 114.8,520.0 115.4,518.6 116.1,517.3 116.7,516.0 117.4,514.7 118.0,513.4 118.7,512.1 119.4,510.8 120.1,509.5 120.9,508.3 121.6,507.0 122.4,505.8 123.2,504.6 124.0,503.4 124.8,502.1 125.6,500.9 126.5,499.7 127.3,498.5 128.2,497.3 129.1,496.1 130.0,494.8 130.8,493.6 131.7,492.3 132.5,491.0 133.4,489.7 134.2,488.3 135.0,487.0 135.7,485.6 136.4,484.2 137.1,482.9 137.8,481.5 138.5,480.1 139.1,478.8 139.8,477.4 140.4,476.0 141.0,474.7 141.7,473.3 142.3,471.9 142.9,470.6 143.6,469.2 144.2,467.8 144.8,466.5 145.4,465.1 146.1,463.8 146.7,462.4 147.3,461.1 147.9,459.8 148.6,458.4 149.3,457.1 150.0,455.8 150.6,454.5 151.4,453.2 152.1,451.9 152.8,450.5 153.4,449.2 154.1,447.8 154.8,446.4 155.5,445.1 156.1,443.7 156.8,442.4 157.4,441.0 158.1,439.7 158.7,438.3 159.4,437.0 160.0,435.6 160.7,434.3 161.3,432.9 162.0,431.6 162.6,430.3 163.3,428.9 164.0,427.6 164.6,426.3 165.3,425.0 166.0,423.7 166.7,422.4 167.4,421.1 168.2,419.8 168.9,418.6 169.7,417.3 170.5,416.1 171.3,414.9 172.1,413.6 172.9,412.4 173.7,411.2 174.6,410.0 175.4,408.8 176.3,407.6 177.2,406.4 178.1,405.2 178.9,403.9 179.8,402.7 180.7,401.5 181.6,400.4 182.5,399.2 183.4,398.0 184.3,396.9 185.3,395.8 186.2,394.7 187.2,393.6 188.2,392.5 189.2,391.5 190.2,390.5 191.2,389.4 192.3,388.4 193.4,387.5 194.5,386.5 195.6,385.5 196.7,384.6 197.8,383.6 199.0,382.7 200.1,381.8 201.3,380.9 202.4,380.0 203.6,379.2 204.8,378.4 206.0,377.6 207.2,376.8 208.5,376.0 209.7,375.3 211.0,374.6 212.3,373.9 213.6,373.2 214.9,372.5 216.2,371.8 217.6,371.1 218.9,370.4 220.2,369.7 221.5,369.0 222.9,368.3 224.2,367.7 225.5,367.0 226.8,366.3 228.2,365.7 229.5,365.0 230.9,364.4 232.2,363.8 233.6,363.1 234.9,362.5 236.3,361.9 237.6,361.3 239.0,360.7 240.3,360.1 241.7,359.5 243.0,359.0 244.4,358.4 245.8,357.9 247.2,357.4 248.6,356.9 249.9,356.4 251.3,355.9 252.8,355.4 254.2,354.9 255.6,354.5 257.0,354.0 258.4,353.6 259.8,353.2 261.3,352.7 262.7,352.3 264.1,351.9 265.6,351.4 267.0,351.0 268.4,350.6 269.9,350.1 271.3,349.7 272.8,349.3 274.2,348.8 275.6,348.4 277.1,348.0 278.5,347.5 279.9,347.1 281.4,346.7 282.8,346.3 284.2,345.8 285.7,345.4 287.1,345.0 288.5,344.6 290.0,344.2 291.4,343.9 292.8,343.5 294.3,343.1 295.7,342.8 297.1,342.5 298.6,342.1 300.0,341.8 301.5,341.5 302.9,341.3 304.4,341.0 305.8,340.7 307.3,340.5 308.8,340.3 310.2,340.0 311.7,339.8 313.2,339.6 314.6,339.4 316.1,339.2 317.6,339.0 319.1,338.8 320.6,338.6 322.1,338.4 323.5,338.2 325.0,338.0 326.5,337.8 328.0,337.6 329.5,337.4 331.0,337.2 332.5,337.0 334.0,336.8 335.5,336.6 337.0,336.4 338.4,336.2 339.9,336.0 341.4,335.8 342.9,335.5 344.4,335.3 345.9,335.1 347.4,334.9 348.8,334.7 350.3,334.5 351.8,334.3 353.3,334.1 354.8,333.9 356.3,333.7 357.8,333.4 359.2,333.2 360.7,333.0 362.2,332.8 363.7,332.6 365.2,332.4 366.7,332.2 368.1,332.1 369.6,331.9 371.1,331.7 372.6,331.5 374.1,331.3 375.6,331.1 377.0,331.0 378.5,330.8 380.0,330.6 381.5,330.5 383.0,330.3 384.5,330.1 386.0,330.0 387.5,329.8 388.9,329.6 390.4,329.5 391.9,329.3 393.4,329.2 394.9,329.0 396.4,328.9 397.9,328.7 399.4,328.6 400.9,328.4 402.4,328.3 403.9,328.2 405.3,328.0 406.8,327.9 408.3,327.7 409.8,327.6 411.3,327.4 412.8,327.3 414.3,327.2 415.8,327.0 417.3,326.9 418.8,326.7 420.3,326.6 421.8,326.5 423.3,326.3 424.8,326.2 426.2,326.0 427.7,325.9 429.2,325.8 430.7,325.6 432.2,325.5 433.7,325.4 435.2,325.2 436.7,325.1 438.2,325.0 439.7,324.9 441.2,324.7 442.7,324.6 444.2,324.5 445.7,324.4 447.2,324.2 448.6,324.1 450.1,324.0 451.6,323.9 453.1,323.8 454.6,323.6 456.1,323.5 457.6,323.4 459.1,323.3 460.6,323.2 462.1,323.1 463.6,323.0 465.1,322.9 466.6,322.7 468.1,322.6 469.6,322.5 471.1,322.4 472.6,322.3 474.1,322.2 475.6,322.1 477.0,322.0 478.5,321.9 480.0,321.8 481.5,321.7 483.0,321.6 484.5,321.5 486.0,321.4 487.5,321.3 489.0,321.3 490.5,321.2 492.0,321.1 493.5,321.0 495.0,320.9 496.5,320.9 498.0,320.8 499.5,320.7 501.0,320.6 502.5,320.6 503.9,320.5 505.4,320.4 506.9,320.4 508.4,320.3 509.9,320.3 511.4,320.2 512.9,320.1 514.4,320.1 515.9,320.0 517.4,319.9 518.9,319.9 520.4,319.8 521.9,319.8 523.4,319.7 524.9,319.6 526.4,319.6 527.9,319.5 529.4,319.4 530.9,319.3 532.4,319.3 533.9,319.2 535.4,319.1 536.9,319.1 538.4,319.0 539.9,318.9 541.4,318.9 542.9,318.8 544.4,318.7 545.9,318.6 547.4,318.6 548.9,318.5 550.4,318.4 551.9,318.4 553.4,318.3 554.9,318.2 556.4,318.2 557.9,318.1 559.4,318.0 560.9,318.0 562.4,317.9 563.9,317.9 565.4,317.8 566.9,317.8 568.4,317.7 569.9,317.7 571.4,317.6 572.9,317.6 574.4,317.6 575.8,317.5 577.3,317.5 578.8,317.5 580.3,317.5 581.8,317.4 581.8,312.2 580.3,312.2 578.8,312.2 577.3,312.2 575.8,312.2 574.2,312.3 572.7,312.3 571.2,312.3 569.7,312.4 568.2,312.4 566.7,312.5 565.2,312.5 563.7,312.6 562.2,312.6 560.7,312.7 559.2,312.7 557.7,312.8 556.2,312.9 554.7,312.9 553.2,313.0 551.7,313.1 550.2,313.1 548.7,313.2 547.2,313.3 545.7,313.3 544.2,313.4 542.7,313.5 541.2,313.6 539.7,313.6 538.2,313.7 536.7,313.8 535.2,313.8 533.7,313.9 532.2,314.0 530.7,314.0 529.2,314.1 527.7,314.2 526.2,314.3 524.7,314.3 523.2,314.4 521.7,314.5 520.2,314.5 518.7,314.6 517.2,314.6 515.7,314.7 514.2,314.8 512.7,314.8 511.2,314.9 509.7,315.0 508.2,315.0 506.7,315.1 505.2,315.1 503.7,315.2 502.2,315.3 500.7,315.3 499.2,315.4 497.7,315.5 496.2,315.6 494.7,315.6 493.2,315.7 491.7,315.8 490.2,315.9 488.7,316.0 487.2,316.0 485.7,316.1 484.2,316.2 482.7,316.3 481.2,316.4 479.7,316.5 478.2,316.6 476.7,316.7 475.2,316.8 473.7,316.9 472.2,317.0 470.7,317.1 469.2,317.2 467.7,317.3 466.2,317.5 464.7,317.6 463.2,317.7 461.7,317.8 460.2,317.9 458.7,318.0 457.2,318.1 455.7,318.2 454.2,318.4 452.7,318.5 451.2,318.6 449.7,318.7 448.2,318.8 446.7,319.0 445.2,319.1 443.7,319.2 442.2,319.3 440.7,319.4 439.2,319.6 437.7,319.7 436.2,319.8 434.7,320.0 433.2,320.1 431.8,320.2 430.3,320.4 428.8,320.5 427.3,320.6 425.8,320.8 424.3,320.9 422.8,321.0 421.3,321.2 419.8,321.3 418.3,321.5 416.8,321.6 415.3,321.7 413.8,321.9 412.3,322.0 410.8,322.2 409.3,322.3 407.8,322.5 406.3,322.6 404.8,322.7 403.3,322.9 401.8,323.0 400.4,323.2 398.9,323.3 397.4,323.5 395.9,323.6 394.4,323.8 392.9,323.9 391.4,324.1 389.9,324.2 388.4,324.4 386.9,324.5 385.4,324.7 383.9,324.9 382.4,325.0 380.9,325.2 379.4,325.4 377.9,325.5 376.4,325.7 374.9,325.9 373.4,326.1 371.9,326.2 370.4,326.4 369.0,326.6 367.5,326.8 366.0,327.0 364.5,327.2 363.0,327.4 361.5,327.6 360.0,327.8 358.5,328.0 357.0,328.2 355.5,328.4 354.0,328.6 352.6,328.8 351.1,329.0 349.6,329.2 348.1,329.5 346.6,329.7 345.1,329.9 343.6,330.1 342.2,330.3 340.7,330.5 339.2,330.7 337.7,330.9 336.2,331.1 334.7,331.3 333.3,331.6 331.8,331.8 330.3,332.0 328.8,332.2 327.3,332.3 325.8,332.5 324.3,332.7 322.9,332.9 321.4,333.1 319.9,333.3 318.4,333.5 316.9,333.7 315.4,333.9 313.9,334.1 312.4,334.3 310.9,334.6 309.4,334.8 307.9,335.0 306.4,335.3 304.9,335.5 303.4,335.8 301.9,336.1 300.4,336.3 299.0,336.7 297.5,337.0 296.0,337.3 294.5,337.6 293.0,338.0 291.5,338.4 290.1,338.7 288.6,339.1 287.1,339.5 285.7,339.9 284.2,340.3 282.8,340.7 281.3,341.2 279.9,341.6 278.4,342.0 277.0,342.5 275.5,342.9 274.1,343.3 272.7,343.8 271.2,344.2 269.8,344.6 268.4,345.1 266.9,345.5 265.5,345.9 264.1,346.4 262.6,346.8 261.2,347.2 259.7,347.7 258.3,348.1 256.8,348.5 255.4,349.0 254.0,349.4 252.5,349.9 251.1,350.4 249.6,350.9 248.2,351.4 246.8,351.9 245.3,352.4 243.9,352.9 242.5,353.5 241.1,354.0 239.7,354.6 238.2,355.2 236.8,355.8 235.5,356.4 234.1,357.1 232.7,357.7 231.3,358.3 230.0,359.0 228.6,359.6 227.2,360.3 225.9,360.9 224.5,361.6 223.2,362.3 221.8,362.9 220.4,363.6 219.1,364.3 217.8,365.0 216.4,365.7 215.1,366.4 213.8,367.1 212.4,367.8 211.1,368.5 209.8,369.2 208.4,370.0 207.1,370.7 205.8,371.5 204.4,372.3 203.1,373.1 201.8,374.0 200.6,374.9 199.3,375.8 198.1,376.7 196.9,377.6 195.7,378.6 194.5,379.5 193.3,380.5 192.1,381.5 191.0,382.5 189.8,383.5 188.7,384.6 187.6,385.6 186.5,386.7 185.4,387.8 184.3,388.9 183.3,390.0 182.2,391.2 181.2,392.3 180.2,393.5 179.3,394.7 178.3,395.9 177.4,397.1 176.5,398.4 175.6,399.6 174.7,400.8 173.7,402.0 172.8,403.1 171.9,404.3 171.0,405.6 170.1,406.8 169.2,408.0 168.3,409.2 167.4,410.5 166.6,411.7 165.7,413.0 164.9,414.3 164.1,415.6 163.3,416.9 162.5,418.2 161.7,419.5 160.9,420.9 160.2,422.2 159.5,423.5 158.7,424.9 158.0,426.2 157.3,427.6 156.6,428.9 155.9,430.2 155.3,431.6 154.6,432.9 153.9,434.3 153.2,435.6 152.6,437.0 151.9,438.3 151.2,439.7 150.6,441.0 149.9,442.3 149.2,443.7 148.5,445.0 147.9,446.3 147.2,447.6 146.5,448.9 145.8,450.2 145.1,451.6 144.4,452.9 143.7,454.2 143.0,455.6 142.3,457.0 141.6,458.4 141.0,459.7 140.3,461.1 139.7,462.5 139.1,463.9 138.5,465.2 137.8,466.6 137.2,467.9 136.6,469.3 136.0,470.6 135.3,472.0 134.7,473.4 134.1,474.7 133.4,476.1 132.8,477.4 132.1,478.7 131.5,480.1 130.8,481.3 130.2,482.6 129.5,483.9 128.7,485.1 128.0,486.4 127.2,487.6 126.4,488.8 125.6,490.0 124.8,491.2 123.9,492.4 123.1,493.6 122.2,494.9 121.3,496.1 120.5,497.3 119.6,498.6 118.7,499.9 117.9,501.1 117.1,502.4 116.2,503.7 115.4,505.1 114.7,506.4 113.9,507.7 113.2,509.1 112.4,510.5 111.7,511.8 111.1,513.2 110.4,514.6 109.8,516.0 109.1,517.3 108.5,518.7 107.8,520.1 107.2,521.5 106.6,522.9 106.0,524.3 105.4,525.7 104.8,527.1 104.3,528.6 103.7,530.0 103.2,531.4 102.7,532.9 102.3,534.3 101.8,535.7 101.3,537.1 100.8,538.5 100.3,539.9 99.8,541.3 99.3,542.7 98.7,544.1 98.2,545.5 97.7,546.9" fill="#7f0000"/><ellipse cx="100.6" cy="548.0" rx="3.15" ry="3.15" fill="#7f0000"/><ellipse cx="581.8" cy="314.8" rx="2.65" ry="2.65" fill="#7f0000"/>
<line x1="83.7" y1="621.1" x2="87.3" y2="621.1" stroke="#7f0000" stroke-width="6.0" stroke-linecap="round"/><line x1="86.3" y1="597.9" x2="90.2" y2="597.9" stroke="#7f0000" stroke-width="6.0" stroke-linecap="round"/><line x1="89.2" y1="584.2" x2="93.1" y2="584.2" stroke="#7f0000" stroke-width="6.0" stroke-linecap="round"/><line x1="93.6" y1="574.3" x2="94.8" y2="574.3" stroke="#7f0000" stroke-width="6.0" stroke-linecap="round"/><line x1="95.6" y1="567.0" x2="96.2" y2="567.0" stroke="#7f0000" stroke-width="6.0" stroke-linecap="round"/><circle cx="97.5" cy="561.1" r="3.0" fill="#7f0000"/><circle cx="99.1" cy="556.1" r="3.0" fill="#7f0000"/><circle cx="100.1" cy="551.6" r="3.0" fill="#7f0000"/>
</g>
<g id="inset">
<rect x="274.5" y="453.0" width="300.0" height="202.7" fill="#fff"/>
<line x1="283.77" y1="655.70" x2="283.77" y2="652.30" stroke="#000" stroke-width="1.7"/>
<line x1="283.77" y1="453.00" x2="283.77" y2="456.40" stroke="#000" stroke-width="1.7"/>
<line x1="293.15" y1="655.70" x2="293.15" y2="652.30" stroke="#000" stroke-width="1.7"/>
<line x1="293.15" y1="453.00" x2="293.15" y2="456.40" stroke="#000" stroke-width="1.7"/>
<line x1="302.52" y1="655.70" x2="302.52" y2="652.30" stroke="#000" stroke-width="1.7"/>
<line x1="302.52" y1="453.00" x2="302.52" y2="456.40" stroke="#000" stroke-width="1.7"/>
<line x1="311.90" y1="655.70" x2="311.90" y2="652.30" stroke="#000" stroke-width="1.7"/>
<line x1="311.90" y1="453.00" x2="311.90" y2="456.40" stroke="#000" stroke-width="1.7"/>
<line x1="321.27" y1="655.70" x2="321.27" y2="650.30" stroke="#000" stroke-width="1.7"/>
<line x1="321.27" y1="453.00" x2="321.27" y2="458.40" stroke="#000" stroke-width="1.7"/>
<line x1="330.64" y1="655.70" x2="330.64" y2="652.30" stroke="#000" stroke-width="1.7"/>
<line x1="330.64" y1="453.00" x2="330.64" y2="456.40" stroke="#000" stroke-width="1.7"/>
<line x1="340.02" y1="655.70" x2="340.02" y2="652.30" stroke="#000" stroke-width="1.7"/>
<line x1="340.02" y1="453.00" x2="340.02" y2="456.40" stroke="#000" stroke-width="1.7"/>
<line x1="349.39" y1="655.70" x2="349.39" y2="652.30" stroke="#000" stroke-width="1.7"/>
<line x1="349.39" y1="453.00" x2="349.39" y2="456.40" stroke="#000" stroke-width="1.7"/>
<line x1="358.77" y1="655.70" x2="358.77" y2="652.30" stroke="#000" stroke-width="1.7"/>
<line x1="358.77" y1="453.00" x2="358.77" y2="456.40" stroke="#000" stroke-width="1.7"/>
<line x1="368.14" y1="655.70" x2="368.14" y2="650.30" stroke="#000" stroke-width="1.7"/>
<line x1="368.14" y1="453.00" x2="368.14" y2="458.40" stroke="#000" stroke-width="1.7"/>
<line x1="377.51" y1="655.70" x2="377.51" y2="652.30" stroke="#000" stroke-width="1.7"/>
<line x1="377.51" y1="453.00" x2="377.51" y2="456.40" stroke="#000" stroke-width="1.7"/>
<line x1="386.89" y1="655.70" x2="386.89" y2="652.30" stroke="#000" stroke-width="1.7"/>
<line x1="386.89" y1="453.00" x2="386.89" y2="456.40" stroke="#000" stroke-width="1.7"/>
<line x1="396.26" y1="655.70" x2="396.26" y2="652.30" stroke="#000" stroke-width="1.7"/>
<line x1="396.26" y1="453.00" x2="396.26" y2="456.40" stroke="#000" stroke-width="1.7"/>
<line x1="405.64" y1="655.70" x2="405.64" y2="652.30" stroke="#000" stroke-width="1.7"/>
<line x1="405.64" y1="453.00" x2="405.64" y2="456.40" stroke="#000" stroke-width="1.7"/>
<line x1="415.01" y1="655.70" x2="415.01" y2="650.30" stroke="#000" stroke-width="1.7"/>
<line x1="415.01" y1="453.00" x2="415.01" y2="458.40" stroke="#000" stroke-width="1.7"/>
<line x1="424.38" y1="655.70" x2="424.38" y2="652.30" stroke="#000" stroke-width="1.7"/>
<line x1="424.38" y1="453.00" x2="424.38" y2="456.40" stroke="#000" stroke-width="1.7"/>
<line x1="433.76" y1="655.70" x2="433.76" y2="652.30" stroke="#000" stroke-width="1.7"/>
<line x1="433.76" y1="453.00" x2="433.76" y2="456.40" stroke="#000" stroke-width="1.7"/>
<line x1="443.13" y1="655.70" x2="443.13" y2="652.30" stroke="#000" stroke-width="1.7"/>
<line x1="443.13" y1="453.00" x2="443.13" y2="456.40" stroke="#000" stroke-width="1.7"/>
<line x1="452.51" y1="655.70" x2="452.51" y2="652.30" stroke="#000" stroke-width="1.7"/>
<line x1="452.51" y1="453.00" x2="452.51" y2="456.40" stroke="#000" stroke-width="1.7"/>
<line x1="461.88" y1="655.70" x2="461.88" y2="650.30" stroke="#000" stroke-width="1.7"/>
<line x1="461.88" y1="453.00" x2="461.88" y2="458.40" stroke="#000" stroke-width="1.7"/>
<line x1="471.25" y1="655.70" x2="471.25" y2="652.30" stroke="#000" stroke-width="1.7"/>
<line x1="471.25" y1="453.00" x2="471.25" y2="456.40" stroke="#000" stroke-width="1.7"/>
<line x1="480.63" y1="655.70" x2="480.63" y2="652.30" stroke="#000" stroke-width="1.7"/>
<line x1="480.63" y1="453.00" x2="480.63" y2="456.40" stroke="#000" stroke-width="1.7"/>
<line x1="490.00" y1="655.70" x2="490.00" y2="652.30" stroke="#000" stroke-width="1.7"/>
<line x1="490.00" y1="453.00" x2="490.00" y2="456.40" stroke="#000" stroke-width="1.7"/>
<line x1="499.38" y1="655.70" x2="499.38" y2="652.30" stroke="#000" stroke-width="1.7"/>
<line x1="499.38" y1="453.00" x2="499.38" y2="456.40" stroke="#000" stroke-width="1.7"/>
<line x1="508.75" y1="655.70" x2="508.75" y2="650.30" stroke="#000" stroke-width="1.7"/>
<line x1="508.75" y1="453.00" x2="508.75" y2="458.40" stroke="#000" stroke-width="1.7"/>
<line x1="518.12" y1="655.70" x2="518.12" y2="652.30" stroke="#000" stroke-width="1.7"/>
<line x1="518.12" y1="453.00" x2="518.12" y2="456.40" stroke="#000" stroke-width="1.7"/>
<line x1="527.50" y1="655.70" x2="527.50" y2="652.30" stroke="#000" stroke-width="1.7"/>
<line x1="527.50" y1="453.00" x2="527.50" y2="456.40" stroke="#000" stroke-width="1.7"/>
<line x1="536.87" y1="655.70" x2="536.87" y2="652.30" stroke="#000" stroke-width="1.7"/>
<line x1="536.87" y1="453.00" x2="536.87" y2="456.40" stroke="#000" stroke-width="1.7"/>
<line x1="546.25" y1="655.70" x2="546.25" y2="652.30" stroke="#000" stroke-width="1.7"/>
<line x1="546.25" y1="453.00" x2="546.25" y2="456.40" stroke="#000" stroke-width="1.7"/>
<line x1="555.62" y1="655.70" x2="555.62" y2="650.30" stroke="#000" stroke-width="1.7"/>
<line x1="555.62" y1="453.00" x2="555.62" y2="458.40" stroke="#000" stroke-width="1.7"/>
<line x1="564.99" y1="655.70" x2="564.99" y2="652.30" stroke="#000" stroke-width="1.7"/>
<line x1="564.99" y1="453.00" x2="564.99" y2="456.40" stroke="#000" stroke-width="1.7"/>
<line x1="274.50" y1="637.35" x2="277.90" y2="637.35" stroke="#000" stroke-width="1.7"/>
<line x1="574.50" y1="637.35" x2="571.10" y2="637.35" stroke="#000" stroke-width="1.7"/>
<line x1="274.50" y1="620.60" x2="277.90" y2="620.60" stroke="#000" stroke-width="1.7"/>
<line x1="574.50" y1="620.60" x2="571.10" y2="620.60" stroke="#000" stroke-width="1.7"/>
<line x1="274.50" y1="603.85" x2="277.90" y2="603.85" stroke="#000" stroke-width="1.7"/>
<line x1="574.50" y1="603.85" x2="571.10" y2="603.85" stroke="#000" stroke-width="1.7"/>
<line x1="274.50" y1="587.10" x2="279.90" y2="587.10" stroke="#000" stroke-width="1.7"/>
<line x1="574.50" y1="587.10" x2="569.10" y2="587.10" stroke="#000" stroke-width="1.7"/>
<line x1="274.50" y1="570.35" x2="277.90" y2="570.35" stroke="#000" stroke-width="1.7"/>
<line x1="574.50" y1="570.35" x2="571.10" y2="570.35" stroke="#000" stroke-width="1.7"/>
<line x1="274.50" y1="553.60" x2="277.90" y2="553.60" stroke="#000" stroke-width="1.7"/>
<line x1="574.50" y1="553.60" x2="571.10" y2="553.60" stroke="#000" stroke-width="1.7"/>
<line x1="274.50" y1="536.85" x2="277.90" y2="536.85" stroke="#000" stroke-width="1.7"/>
<line x1="574.50" y1="536.85" x2="571.10" y2="536.85" stroke="#000" stroke-width="1.7"/>
<line x1="274.50" y1="520.10" x2="279.90" y2="520.10" stroke="#000" stroke-width="1.7"/>
<line x1="574.50" y1="520.10" x2="569.10" y2="520.10" stroke="#000" stroke-width="1.7"/>
<line x1="274.50" y1="503.35" x2="277.90" y2="503.35" stroke="#000" stroke-width="1.7"/>
<line x1="574.50" y1="503.35" x2="571.10" y2="503.35" stroke="#000" stroke-width="1.7"/>
<line x1="274.50" y1="486.60" x2="277.90" y2="486.60" stroke="#000" stroke-width="1.7"/>
<line x1="574.50" y1="486.60" x2="571.10" y2="486.60" stroke="#000" stroke-width="1.7"/>
<line x1="274.50" y1="469.85" x2="277.90" y2="469.85" stroke="#000" stroke-width="1.7"/>
<line x1="574.50" y1="469.85" x2="571.10" y2="469.85" stroke="#000" stroke-width="1.7"/><rect x="274.50" y="453.00" width="300.00" height="202.70" fill="none" stroke="#000" stroke-width="2.3"/>
<polyline points="274.6,654.8 276.1,654.7 277.6,654.6 279.1,654.6 280.6,654.5 282.1,654.4 283.6,654.3 285.1,654.3 286.6,654.2 288.1,654.1 289.6,654.0 291.1,653.9 292.6,653.9 294.1,653.8 295.6,653.7 297.1,653.6 298.6,653.4 300.1,653.3 301.5,653.1 303.0,652.8 304.5,652.5 305.9,652.0 307.3,651.6 308.7,651.0 310.0,650.3 311.3,649.5 312.4,648.6 313.5,647.6 314.6,646.5 315.6,645.4 316.5,644.2 317.3,643.0 318.2,641.7 319.0,640.4 319.7,639.2 320.5,637.9 321.2,636.5 321.9,635.2 322.6,633.9 323.3,632.5 323.9,631.2 324.6,629.8 325.2,628.5 325.8,627.1 326.4,625.7 327.0,624.3 327.6,623.0 328.2,621.6 328.7,620.2 329.3,618.8 329.9,617.4 330.5,616.0 331.1,614.7 331.7,613.3 332.3,611.9 332.9,610.5 333.5,609.2 334.1,607.8 334.8,606.4 335.4,605.1 336.1,603.7 336.7,602.4 337.4,601.1 338.1,599.7 338.8,598.4 339.4,597.0 340.1,595.7 340.8,594.3 341.5,593.0 342.2,591.7 342.9,590.4 343.6,589.1 344.3,587.7 345.1,586.4 345.8,585.1 346.5,583.8 347.2,582.5 347.9,581.2 348.6,579.8 349.3,578.5 350.0,577.2 350.7,575.8 351.4,574.5 352.2,573.2 353.0,571.9 353.8,570.7 354.7,569.5 355.6,568.3 356.5,567.1 357.4,565.9 358.3,564.7 359.2,563.5 360.1,562.3 361.0,561.1 361.8,559.8 362.7,558.6 363.6,557.4 364.5,556.2 365.5,555.1 366.4,553.9 367.4,552.8 368.4,551.6 369.4,550.5 370.4,549.4 371.4,548.3 372.5,547.3 373.5,546.2 374.6,545.2 375.7,544.1 376.8,543.1 378.0,542.2 379.1,541.2 380.3,540.3 381.5,539.4 382.7,538.5 383.9,537.6 385.2,536.8 386.4,535.9 387.7,535.1 389.0,534.3 390.2,533.5 391.5,532.8 392.8,532.0 394.1,531.3 395.4,530.5 396.8,529.9 398.1,529.2 399.5,528.5 400.8,527.9 402.2,527.3 403.6,526.7 405.0,526.1 406.4,525.6 407.8,525.1 409.2,524.6 410.6,524.1 412.1,523.7 413.5,523.3 415.0,522.9 416.4,522.6 417.9,522.3 419.4,522.0 420.8,521.7 422.3,521.5 423.8,521.2 425.3,520.9 426.7,520.5 428.2,520.1 429.6,519.7 431.1,519.3 432.5,519.0 434.0,518.6 435.4,518.3 436.9,518.0 438.4,517.7 439.9,517.4 441.3,517.1 442.8,516.9 444.3,516.6 445.8,516.4 447.3,516.2 448.7,516.0 450.2,515.8 451.7,515.6 453.2,515.4 454.7,515.3 456.2,515.2 457.7,515.0 459.2,514.9 460.7,514.8 462.2,514.8 463.7,514.7 465.2,514.7 466.7,514.7 468.2,514.6 469.7,514.6 471.2,514.6 472.7,514.6 474.2,514.6 475.7,514.6 477.2,514.6 478.7,514.6 480.2,514.7 481.7,514.7 483.2,514.7 484.7,514.8 486.2,514.8 487.7,514.9 489.2,515.0 490.7,515.0 492.2,515.1 493.7,515.2 495.2,515.3 496.7,515.4 498.2,515.5 499.7,515.6 501.2,515.7 502.7,515.9 504.2,516.0 505.7,516.1 507.2,516.2 508.7,516.4 510.2,516.6 511.6,516.7 513.1,516.9 514.6,517.1 516.1,517.3 517.6,517.5 519.1,517.8 520.6,518.0 522.1,518.2 523.5,518.4 525.0,518.6 526.5,518.8 528.0,519.0 529.5,519.2 531.0,519.4 532.5,519.6 534.0,519.8 535.4,520.0 536.9,520.2 538.4,520.5 539.9,520.7 541.4,520.9 542.9,521.1 544.3,521.4 545.8,521.6 547.3,521.9 548.8,522.1 550.3,522.3 551.8,522.5 553.2,522.8 554.7,523.0 556.2,523.2 557.7,523.4" fill="none" stroke="#0000cd" stroke-width="1.9000000000000001" stroke-linecap="butt" stroke-linejoin="round"/>
<polyline points="274.6,654.6 276.1,654.5 277.6,654.4 279.1,654.3 280.6,654.2 282.1,654.1 283.6,654.0 285.1,653.9 286.6,653.8 288.1,653.7 289.6,653.5 291.1,653.4 292.6,653.3 294.1,653.1 295.6,652.9 297.1,652.8 298.5,652.6 300.0,652.3 301.5,652.1 303.0,651.8 304.4,651.4 305.9,651.0 307.3,650.5 308.7,650.0 310.0,649.3 311.3,648.6 312.5,647.7 313.7,646.7 314.7,645.7 315.7,644.6 316.7,643.4 317.5,642.2 318.4,641.0 319.2,639.7 319.9,638.4 320.7,637.1 321.4,635.8 322.1,634.5 322.8,633.1 323.5,631.8 324.1,630.4 324.7,629.0 325.3,627.7 325.9,626.3 326.5,624.9 327.1,623.5 327.7,622.1 328.3,620.8 328.9,619.4 329.4,618.0 330.0,616.6 330.6,615.2 331.2,613.8 331.8,612.4 332.3,611.1 332.9,609.7 333.5,608.3 334.1,606.9 334.6,605.5 335.2,604.1 335.8,602.7 336.3,601.3 336.9,599.9 337.5,598.5 338.0,597.2 338.6,595.8 339.2,594.4 339.8,593.0 340.4,591.6 340.9,590.2 341.5,588.8 342.1,587.5 342.7,586.1 343.3,584.7 343.8,583.3 344.4,581.9 345.0,580.5 345.5,579.1 346.1,577.7 346.6,576.3 347.1,574.9 347.7,573.5 348.3,572.1 348.8,570.7 349.4,569.3 350.0,568.0 350.6,566.6 351.1,565.2 351.8,563.8 352.4,562.4 353.0,561.1 353.7,559.7 354.4,558.4 355.0,557.1 355.8,555.7 356.5,554.4 357.2,553.1 358.0,551.8 358.7,550.5 359.5,549.2 360.3,547.9 361.1,546.7 361.9,545.4 362.7,544.1 363.5,542.9 364.4,541.6 365.2,540.4 366.1,539.2 367.0,538.0 367.9,536.8 368.9,535.6 369.8,534.5 370.8,533.3 371.8,532.2 372.8,531.1 373.8,530.0 374.9,528.9 375.9,527.8 377.0,526.8 378.1,525.8 379.2,524.7 380.3,523.7 381.4,522.8 382.6,521.8 383.8,520.9 385.0,519.9 386.2,519.1 387.4,518.2 388.7,517.4 389.9,516.6 391.2,515.8 392.6,515.1 393.9,514.4 395.2,513.8 396.6,513.2 398.0,512.6 399.4,512.1 400.8,511.5 402.2,511.1 403.7,510.6 405.1,510.2 406.6,509.9 408.0,509.5 409.5,509.2 411.0,508.9 412.5,508.7 414.0,508.5 415.4,508.3 416.9,508.1 418.4,508.0 419.9,507.8 421.4,507.7 422.9,507.6 424.4,507.4 425.9,507.3 427.4,507.2 428.9,507.0 430.4,506.9 431.9,506.7 433.4,506.6 434.9,506.4 436.4,506.3 437.9,506.1 439.4,506.0 440.9,505.9 442.4,505.7 443.9,505.6 445.4,505.6 446.9,505.5 448.4,505.5 449.9,505.5 451.4,505.5 452.9,505.5 454.4,505.5 455.9,505.6 457.4,505.6 458.9,505.7 460.4,505.8 461.9,505.9 463.4,506.0 464.9,506.2 466.4,506.3 467.9,506.5 469.4,506.6 470.8,506.8 472.3,507.0 473.8,507.2 475.3,507.4 476.8,507.6 478.3,507.8 479.8,508.0 481.3,508.3 482.7,508.5 484.2,508.7 485.7,508.9 487.2,509.1 488.7,509.3 490.2,509.4 491.7,509.6 493.2,509.8 494.7,510.0 496.2,510.1 497.7,510.3 499.1,510.5 500.6,510.7 502.1,510.9 503.6,511.1 505.1,511.3 506.6,511.5 508.1,511.7 509.6,511.9 511.0,512.2 512.5,512.5 514.0,512.7 515.5,513.0 516.9,513.3 518.4,513.6 519.9,514.0 521.4,514.3 522.8,514.6 524.3,514.9 525.8,515.2 527.2,515.6 528.7,515.9 530.2,516.2 531.6,516.6 533.1,516.9 534.5,517.3 536.0,517.6 537.5,518.0 538.9,518.3 540.4,518.6 541.9,519.0 543.3,519.3 544.8,519.6 546.3,520.0 547.7,520.3 549.2,520.6 550.6,521.0 552.1,521.3 553.6,521.7 555.0,522.0 556.5,522.4 558.0,522.7 559.4,523.0 560.9,523.4 562.3,523.7 563.8,524.1 565.3,524.4 566.7,524.8 568.2,525.1" fill="none" stroke="#ff7f00" stroke-width="1.9000000000000001" stroke-linecap="butt" stroke-linejoin="round"/>
<polyline points="274.6,654.3 276.0,653.9 277.5,653.5 278.9,653.1 280.4,652.7 281.8,652.3 283.3,651.9 284.7,651.4 286.1,651.0 287.6,650.6 289.0,650.1 290.5,649.7 291.9,649.3 293.3,648.8 294.8,648.4 296.2,648.0 297.6,647.6 299.1,647.2 300.5,646.8 302.0,646.3 303.4,645.8 304.8,645.3 306.1,644.6 307.3,643.8 308.5,642.9 309.6,642.0 310.7,640.9 311.6,639.7 312.5,638.5 313.4,637.3 314.1,636.0 314.9,634.7 315.6,633.4 316.3,632.1 317.0,630.8 317.7,629.4 318.4,628.1 319.0,626.7 319.6,625.4 320.2,624.0 320.8,622.6 321.4,621.2 322.0,619.8 322.6,618.4 323.1,617.0 323.7,615.7 324.2,614.3 324.8,612.9 325.3,611.5 325.8,610.1 326.4,608.7 326.9,607.3 327.5,605.9 328.0,604.5 328.5,603.1 329.1,601.7 329.6,600.3 330.2,598.9 330.7,597.5 331.2,596.1 331.7,594.6 332.2,593.2 332.7,591.8 333.2,590.4 333.7,589.0 334.2,587.6 334.8,586.2 335.3,584.8 335.8,583.4 336.4,582.0 336.9,580.6 337.4,579.2 338.0,577.8 338.5,576.4 339.1,575.0 339.6,573.6 340.1,572.2 340.7,570.8 341.3,569.4 341.8,568.0 342.4,566.6 343.0,565.2 343.6,563.9 344.3,562.5 344.9,561.1 345.5,559.8 346.1,558.4 346.8,557.1 347.4,555.7 348.1,554.4 348.8,553.0 349.4,551.7 350.1,550.3 350.8,549.0 351.4,547.6 352.1,546.3 352.8,545.0 353.5,543.6 354.2,542.3 354.9,541.0 355.6,539.7 356.3,538.3 357.0,537.0 357.8,535.7 358.5,534.4 359.3,533.1 360.0,531.8 360.8,530.5 361.6,529.2 362.3,528.0 363.2,526.7 364.0,525.4 364.8,524.2 365.6,522.9 366.5,521.7 367.3,520.5 368.2,519.3 369.1,518.0 370.0,516.8 370.9,515.6 371.8,514.5 372.8,513.3 373.7,512.1 374.7,511.0 375.7,509.9 376.7,508.8 377.8,507.7 378.8,506.6 379.9,505.6 381.0,504.6 382.2,503.6 383.3,502.7 384.5,501.8 385.7,500.9 386.9,500.0 388.1,499.1 389.4,498.2 390.6,497.4 391.8,496.5 393.1,495.7 394.4,494.9 395.6,494.1 396.9,493.4 398.2,492.6 399.5,491.9 400.9,491.2 402.2,490.5 403.6,489.9 404.9,489.3 406.3,488.7 407.7,488.1 409.1,487.6 410.5,487.1 411.9,486.6 413.4,486.1 414.8,485.6 416.2,485.2 417.7,484.9 419.1,484.5 420.6,484.2 422.1,483.9 423.5,483.6 425.0,483.3 426.5,483.0 427.9,482.6 429.4,482.3 430.9,482.0 432.4,481.8 433.8,481.5 435.3,481.3 436.8,481.0 438.3,480.8 439.8,480.6 441.3,480.4 442.7,480.3 444.2,480.1 445.7,480.0 447.2,479.8 448.7,479.7 450.2,479.6 451.7,479.6 453.2,479.5 454.7,479.5 456.2,479.4 457.7,479.4 459.2,479.4 460.7,479.4 462.2,479.5 463.7,479.5 465.2,479.5 466.7,479.6 468.2,479.7 469.7,479.7 471.2,479.8 472.7,479.9 474.2,480.0 475.7,480.1 477.2,480.2 478.7,480.4 480.2,480.5 481.7,480.6 483.2,480.8 484.7,480.9 486.2,481.1 487.6,481.3 489.1,481.5 490.6,481.8 492.1,482.0 493.6,482.3 495.1,482.5 496.5,482.7 498.0,483.0 499.5,483.2 501.0,483.5 502.5,483.7 503.9,483.9 505.4,484.2 506.9,484.5 508.4,484.7 509.8,485.0 511.3,485.3 512.8,485.5 514.3,485.8 515.7,486.1 517.2,486.4 518.7,486.7 520.2,487.0 521.6,487.3 523.1,487.6 524.6,488.0 526.0,488.3 527.5,488.6 529.0,488.9 530.4,489.3 531.9,489.6 533.3,489.9 534.8,490.2 536.3,490.6 537.7,490.9 539.2,491.2 540.7,491.6 542.1,491.9 543.6,492.2 545.0,492.6 546.5,492.9 548.0,493.3 549.4,493.6 550.9,494.0 552.4,494.3 553.8,494.7 555.3,495.0 556.7,495.4 558.2,495.7 559.6,496.1 561.1,496.5 562.5,496.8 564.0,497.2" fill="none" stroke="#a80000" stroke-width="1.9000000000000001" stroke-linecap="butt" stroke-linejoin="round"/>
</g>
<g id="text" style="opacity:0.999">
<text x="76.9" y="745.8" font-size="19.5" text-anchor="middle" fill="#000" stroke="#000" >0</text>
<text x="158.8" y="745.8" font-size="19.5" text-anchor="middle" fill="#000" stroke="#000" >10</text>
<text x="240.7" y="745.8" font-size="19.5" text-anchor="middle" fill="#000" stroke="#000" >20</text>
<text x="322.6" y="745.8" font-size="19.5" text-anchor="middle" fill="#000" stroke="#000" >30</text>
<text x="404.5" y="745.8" font-size="19.5" text-anchor="middle" fill="#000" stroke="#000" >40</text>
<text x="486.4" y="745.8" font-size="19.5" text-anchor="middle" fill="#000" stroke="#000" >50</text>
<text x="568.2" y="745.8" font-size="19.5" text-anchor="middle" fill="#000" stroke="#000" >60</text>
<text x="68.5" y="335.9" font-size="19.5" text-anchor="end" fill="#000" stroke="#000" >10</text>
<text x="68.5" y="413.3" font-size="19.5" text-anchor="end" fill="#000" stroke="#000" >1</text>
<text x="68.5" y="490.7" font-size="19.5" text-anchor="end" fill="#000" stroke="#000" >0.1</text>
<text x="68.5" y="568.1" font-size="19.5" text-anchor="end" fill="#000" stroke="#000" >0.01</text>
<text x="68.5" y="645.5" font-size="19.5" text-anchor="end" fill="#000" stroke="#000" >1E-3</text>
<text x="68.5" y="722.9" font-size="19.5" text-anchor="end" fill="#000" stroke="#000" >1E-4</text>
<text x="274.4" y="677.0" font-size="18" text-anchor="middle" fill="#000" stroke="#000" >0</text>
<text x="321.3" y="677.0" font-size="18" text-anchor="middle" fill="#000" stroke="#000" >10</text>
<text x="368.1" y="677.0" font-size="18" text-anchor="middle" fill="#000" stroke="#000" >20</text>
<text x="415.0" y="677.0" font-size="18" text-anchor="middle" fill="#000" stroke="#000" >30</text>
<text x="461.9" y="677.0" font-size="18" text-anchor="middle" fill="#000" stroke="#000" >40</text>
<text x="508.8" y="677.0" font-size="18" text-anchor="middle" fill="#000" stroke="#000" >50</text>
<text x="555.6" y="677.0" font-size="18" text-anchor="middle" fill="#000" stroke="#000" >60</text>
<text x="268.5" y="659.6" font-size="18" text-anchor="end" fill="#000" stroke="#000" >0</text>
<text x="268.5" y="592.6" font-size="18" text-anchor="end" fill="#000" stroke="#000" >200</text>
<text x="268.5" y="525.6" font-size="18" text-anchor="end" fill="#000" stroke="#000" >400</text>
<text x="268.5" y="458.6" font-size="18" text-anchor="end" fill="#000" stroke="#000" >600</text>
<text x="100.8" y="336.1" font-size="19.5" text-anchor="start" fill="#000" stroke="#000" ><tspan font-style="italic">T</tspan> = 4.2 K</text>
<text x="248.5" y="329.5" font-size="19.5" text-anchor="start" fill="#a00000" stroke="#a00000" >2×20</text>
<text x="203.0" y="414.0" font-size="19.5" text-anchor="start" fill="#ff7f00" stroke="#ff7f00" >2×50</text>
<text x="127.8" y="581.2" font-size="19.5" text-anchor="start" fill="#0000b0" stroke="#0000b0" >1×90</text>
<text x="291.4" y="483.3" font-size="18" text-anchor="start" fill="#000" stroke="#000" ><tspan font-style="italic">T</tspan> = 4.2 K</text>
<text x="504.7" y="480.5" font-size="18" text-anchor="start" fill="#a80000" stroke="#a80000" >2×20</text>
<text x="444.9" y="503.2" font-size="18" text-anchor="start" fill="#ff7f00" stroke="#ff7f00" >2×50</text>
<text x="380.5" y="562.9" font-size="18" text-anchor="start" fill="#0000cd" stroke="#0000cd" >1×90</text>
<text x="304.4" y="777.0" font-size="19.5" fill="#000" stroke="#000"><tspan font-style="italic">n</tspan><tspan font-size="12.1" dy="9.0">s</tspan><tspan dy="-9.0"> (10</tspan><tspan font-size="12.1" dy="-10.5">11</tspan><tspan dy="10.5">cm</tspan><tspan font-size="12.1" dy="-10.5">-2</tspan><tspan dy="10.5">)</tspan></text>
<text x="385.3" y="697.3" font-size="18" fill="#000" stroke="#000"><tspan font-style="italic">n</tspan><tspan font-size="11.2" dy="8.3">s</tspan><tspan dy="-8.3"> (10</tspan><tspan font-size="11.2" dy="-9.7">11</tspan><tspan dy="9.7">cm</tspan><tspan font-size="11.2" dy="-9.7">-2</tspan><tspan dy="9.7">)</tspan></text>
<text transform="translate(24.4,505.2) rotate(-90)" font-size="19.5" fill="#000" stroke="#000"><tspan font-style="italic">σ</tspan> (<tspan font-style="italic">e</tspan><tspan font-size="12.1" dy="-10.1">2</tspan><tspan dy="10.1">/</tspan><tspan font-style="italic">h</tspan>)</text>
<text transform="translate(233.2,583.5) rotate(-90)" font-size="19.0" fill="#000" stroke="#000"><tspan font-style="italic">μ</tspan> (cm<tspan font-size="11.8" dy="-9.9">2</tspan><tspan dy="9.9">V/s)</tspan></text>
</g>
</svg>
</body></html>
